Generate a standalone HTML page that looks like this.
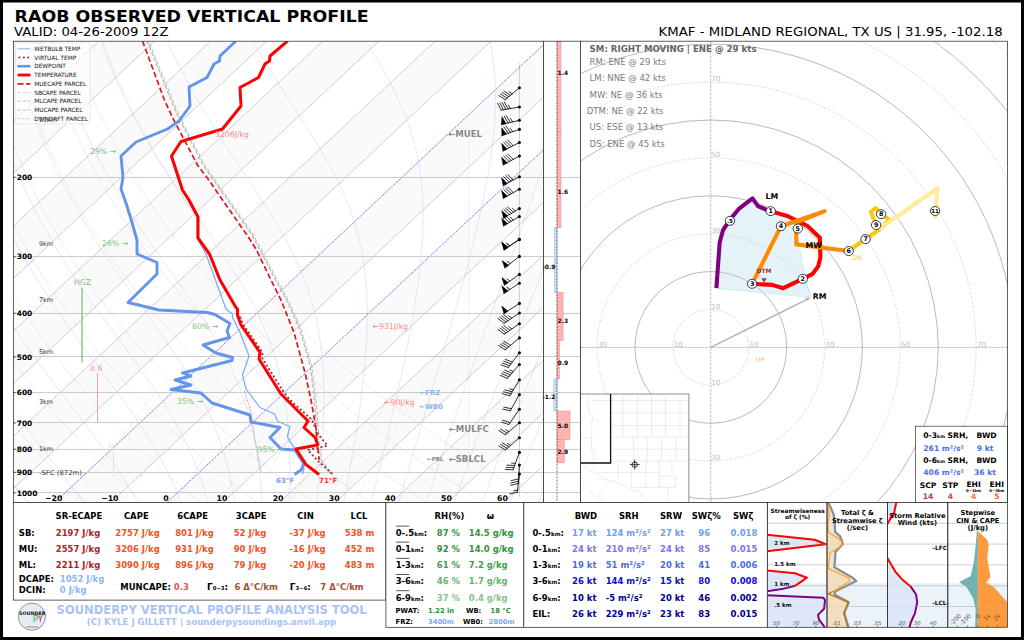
<!DOCTYPE html>
<html lang="en"><head><meta charset="utf-8"><title>RAOB OBSERVED VERTICAL PROFILE</title>
<style>
html,body{margin:0;padding:0;background:#000;}
body{width:1024px;height:640px;overflow:hidden;}
svg{display:block;font-family:"DejaVu Sans","Liberation Sans",sans-serif;}
</style></head><body>
<svg width="1024" height="640" viewBox="0 0 1024 640">
<rect x="0" y="0" width="1024" height="640" fill="#000"/>
<rect x="3" y="2.5" width="1018" height="634.5" fill="#fff"/>
<text x="14.6" y="21.7" font-size="16.7" font-weight="bold" fill="#000" textLength="354" lengthAdjust="spacingAndGlyphs">RAOB OBSERVED VERTICAL PROFILE</text>
<text x="14" y="36.2" font-size="12.9" fill="#000" textLength="154.5" lengthAdjust="spacingAndGlyphs">VALID: 04-26-2009 12Z</text>
<text x="658.6" y="36.3" font-size="12.9" fill="#000" textLength="344" lengthAdjust="spacingAndGlyphs">KMAF - MIDLAND REGIONAL, TX US | 31.95, -102.18</text>
<defs><clipPath id="cs"><rect x="13.5" y="41.2" width="530" height="461.2"/></clipPath></defs>
<g clip-path="url(#cs)">
<polygon points="-506.2,502.5 -450.1,502.5 42.3,41.2 -13.8,41.2" fill="#fafafa"/>
<polygon points="-394,502.5 -337.9,502.5 154.5,41.2 98.4,41.2" fill="#fafafa"/>
<polygon points="-281.8,502.5 -225.7,502.5 266.7,41.2 210.6,41.2" fill="#fafafa"/>
<polygon points="-169.6,502.5 -113.5,502.5 378.9,41.2 322.8,41.2" fill="#fafafa"/>
<polygon points="-57.4,502.5 -1.3,502.5 491.1,41.2 435,41.2" fill="#fafafa"/>
<polygon points="54.8,502.5 110.9,502.5 603.3,41.2 547.2,41.2" fill="#fafafa"/>
<polygon points="167,502.5 223.1,502.5 715.5,41.2 659.4,41.2" fill="#fafafa"/>
<polygon points="279.2,502.5 335.3,502.5 827.7,41.2 771.6,41.2" fill="#fafafa"/>
<polygon points="391.4,502.5 447.5,502.5 939.9,41.2 883.8,41.2" fill="#fafafa"/>
<path d="M-160.6 41.2 L-160.9 56.6 L-160.8 72 L-160.4 87.4 L-159.5 102.8 L-158.3 118.1 L-156.7 133.5 L-154.6 148.9 L-152.2 164.2 L-149.3 179.6 L-146 195 L-142.2 210.4 L-138 225.8 L-133.3 241.1 L-128.1 256.5 L-122.5 271.9 L-116.3 287.2 L-109.6 302.6 L-102.4 318 L-94.7 333.4 L-86.4 348.8 L-77.6 364.1 L-68.2 379.5 L-58.2 394.9 L-47.6 410.2 L-36.4 425.6 L-24.6 441 L-12.1 456.4 L1 471.8 L14.8 487.1 L29.2 502.5" stroke="#eeb0b0" stroke-width="0.5" fill="none" opacity="0.55"/>
<path d="M-131.6 41.2 L-131.2 56.6 L-130.4 72 L-129.3 87.4 L-127.8 102.8 L-125.8 118.1 L-123.4 133.5 L-120.6 148.9 L-117.4 164.2 L-113.7 179.6 L-109.6 195 L-105 210.4 L-100 225.8 L-94.4 241.1 L-88.4 256.5 L-81.8 271.9 L-74.7 287.2 L-67.1 302.6 L-59 318 L-50.2 333.4 L-41 348.8 L-31.1 364.1 L-20.6 379.5 L-9.6 394.9 L2.1 410.2 L14.4 425.6 L27.4 441 L41 456.4 L55.4 471.8 L70.4 487.1 L86.1 502.5" stroke="#eeb0b0" stroke-width="0.5" fill="none" opacity="0.55"/>
<path d="M-102.5 41.2 L-101.5 56.6 L-100.1 72 L-98.2 87.4 L-96 102.8 L-93.3 118.1 L-90.2 133.5 L-86.7 148.9 L-82.7 164.2 L-78.2 179.6 L-73.3 195 L-67.9 210.4 L-62 225.8 L-55.5 241.1 L-48.6 256.5 L-41.1 271.9 L-33.1 287.2 L-24.6 302.6 L-15.5 318 L-5.8 333.4 L4.5 348.8 L15.4 364.1 L26.9 379.5 L39.1 394.9 L51.8 410.2 L65.3 425.6 L79.4 441 L94.2 456.4 L109.8 471.8 L126 487.1 L143 502.5" stroke="#eeb0b0" stroke-width="0.5" fill="none" opacity="0.55"/>
<path d="M-73.5 41.2 L-71.8 56.6 L-69.7 72 L-67.1 87.4 L-64.2 102.8 L-60.8 118.1 L-57 133.5 L-52.7 148.9 L-47.9 164.2 L-42.7 179.6 L-36.9 195 L-30.7 210.4 L-23.9 225.8 L-16.7 241.1 L-8.9 256.5 L-0.5 271.9 L8.4 287.2 L17.9 302.6 L28 318 L38.7 333.4 L50 348.8 L61.9 364.1 L74.5 379.5 L87.7 394.9 L101.6 410.2 L116.2 425.6 L131.4 441 L147.4 456.4 L164.2 471.8 L181.6 487.1 L199.9 502.5" stroke="#eeb0b0" stroke-width="0.5" fill="none" opacity="0.55"/>
<path d="M-44.4 41.2 L-42.1 56.6 L-39.3 72 L-36.1 87.4 L-32.4 102.8 L-28.3 118.1 L-23.7 133.5 L-18.7 148.9 L-13.1 164.2 L-7.1 179.6 L-0.6 195 L6.5 210.4 L14.1 225.8 L22.2 241.1 L30.9 256.5 L40.2 271.9 L50 287.2 L60.4 302.6 L71.5 318 L83.2 333.4 L95.5 348.8 L108.4 364.1 L122 379.5 L136.3 394.9 L151.3 410.2 L167 425.6 L183.4 441 L200.6 456.4 L218.6 471.8 L237.3 487.1 L256.8 502.5" stroke="#eeb0b0" stroke-width="0.5" fill="none" opacity="0.55"/>
<path d="M-15.3 41.2 L-12.3 56.6 L-8.9 72 L-5 87.4 L-0.6 102.8 L4.2 118.1 L9.5 133.5 L15.3 148.9 L21.6 164.2 L28.4 179.6 L35.8 195 L43.7 210.4 L52.1 225.8 L61.1 241.1 L70.7 256.5 L80.8 271.9 L91.6 287.2 L103 302.6 L115 318 L127.6 333.4 L140.9 348.8 L154.9 364.1 L169.6 379.5 L185 394.9 L201 410.2 L217.9 425.6 L235.5 441 L253.8 456.4 L272.9 471.8 L292.9 487.1 L313.7 502.5" stroke="#eeb0b0" stroke-width="0.5" fill="none" opacity="0.55"/>
<path d="M13.7 41.2 L17.4 56.6 L21.5 72 L26.1 87.4 L31.1 102.8 L36.7 118.1 L42.7 133.5 L49.3 148.9 L56.4 164.2 L64 179.6 L72.1 195 L80.8 210.4 L90.1 225.8 L100 241.1 L110.4 256.5 L121.5 271.9 L133.2 287.2 L145.5 302.6 L158.5 318 L172.1 333.4 L186.4 348.8 L201.4 364.1 L217.1 379.5 L233.6 394.9 L250.8 410.2 L268.7 425.6 L287.5 441 L307 456.4 L327.3 471.8 L348.5 487.1 L370.5 502.5" stroke="#eeb0b0" stroke-width="0.5" fill="none" opacity="0.55"/>
<path d="M42.8 41.2 L47.1 56.6 L51.9 72 L57.2 87.4 L62.9 102.8 L69.2 118.1 L76 133.5 L83.3 148.9 L91.1 164.2 L99.5 179.6 L108.5 195 L118 210.4 L128.1 225.8 L138.8 241.1 L150.2 256.5 L162.1 271.9 L174.7 287.2 L188 302.6 L201.9 318 L216.6 333.4 L231.9 348.8 L247.9 364.1 L264.7 379.5 L282.2 394.9 L300.5 410.2 L319.6 425.6 L339.5 441 L360.2 456.4 L381.7 471.8 L404.1 487.1 L427.4 502.5" stroke="#eeb0b0" stroke-width="0.5" fill="none" opacity="0.55"/>
<path d="M71.8 41.2 L76.8 56.6 L82.3 72 L88.2 87.4 L94.7 102.8 L101.7 118.1 L109.2 133.5 L117.3 148.9 L125.9 164.2 L135.1 179.6 L144.8 195 L155.2 210.4 L166.1 225.8 L177.7 241.1 L189.9 256.5 L202.8 271.9 L216.3 287.2 L230.5 302.6 L245.4 318 L261 333.4 L277.4 348.8 L294.4 364.1 L312.3 379.5 L330.9 394.9 L350.3 410.2 L370.5 425.6 L391.5 441 L413.4 456.4 L436.1 471.8 L459.8 487.1 L484.3 502.5" stroke="#eeb0b0" stroke-width="0.5" fill="none" opacity="0.55"/>
<path d="M100.9 41.2 L106.5 56.6 L112.7 72 L119.3 87.4 L126.5 102.8 L134.2 118.1 L142.5 133.5 L151.3 148.9 L160.6 164.2 L170.6 179.6 L181.2 195 L192.4 210.4 L204.2 225.8 L216.6 241.1 L229.7 256.5 L243.5 271.9 L257.9 287.2 L273 302.6 L288.9 318 L305.5 333.4 L322.8 348.8 L340.9 364.1 L359.8 379.5 L379.5 394.9 L400 410.2 L421.3 425.6 L443.5 441 L466.6 456.4 L490.5 471.8 L515.4 487.1 L541.2 502.5" stroke="#eeb0b0" stroke-width="0.5" fill="none" opacity="0.55"/>
<path d="M27.8 502.5 L24 497.7 L20.1 492.9 L12.3 483.1 L4.4 473.3 L-3.4 463.5 L-11 453.7 L-18.6 443.8 L-26 434 L-33.2 424.2 L-40.3 414.4 L-47.1 404.6 L-53.8 394.7 L-60.2 384.9 L-66.4 375.1 L-72.4 365.3 L-78.1 355.5 L-83.6 345.6 L-89 335.8 L-94 326 L-98.9 316.2 L-103.6 306.4 L-108 296.5 L-112.3 286.7 L-116.3 276.9 L-120.1 267.1 L-123.7 257.3 L-127.1 247.5 L-130.4 237.6 L-133.4 227.8 L-136.2 218 L-138.9 208.2 L-141.3 198.4 L-143.6 188.5 L-145.7 178.7 L-147.6 168.9 L-149.3 159.1 L-150.9 149.3 L-152.3 139.4 L-153.5 129.6 L-154.6 119.8 L-155.5 110 L-156.2 100.2 L-156.8 90.3 L-157.2 80.5 L-157.5 70.7 L-157.6 60.9 L-157.6 51.1 L-157.4 41.2" stroke="#b4c0f0" stroke-width="0.5" fill="none" opacity="0.7"/>
<path d="M83.2 502.5 L79.7 497.7 L76.2 492.9 L68.9 483.1 L61.4 473.3 L53.8 463.5 L46.2 453.7 L38.5 443.8 L30.8 434 L23.2 424.2 L15.7 414.4 L8.3 404.6 L1.1 394.7 L-6 384.9 L-12.8 375.1 L-19.5 365.3 L-25.9 355.5 L-32.1 345.6 L-38.1 335.8 L-43.9 326 L-49.5 316.2 L-54.8 306.4 L-60 296.5 L-64.9 286.7 L-69.6 276.9 L-74.1 267.1 L-78.3 257.3 L-82.4 247.5 L-86.2 237.6 L-89.9 227.8 L-93.3 218 L-96.6 208.2 L-99.6 198.4 L-102.5 188.5 L-105.2 178.7 L-107.7 168.9 L-110 159.1 L-112.1 149.3 L-114.1 139.4 L-115.8 129.6 L-117.4 119.8 L-118.9 110 L-120.1 100.2 L-121.2 90.3 L-122.1 80.5 L-122.9 70.7 L-123.5 60.9 L-123.9 51.1 L-124.2 41.2" stroke="#b4c0f0" stroke-width="0.5" fill="none" opacity="0.7"/>
<path d="M137.7 502.5 L135.1 497.7 L132.3 492.9 L126.4 483.1 L120.2 473.3 L113.6 463.5 L106.8 453.7 L99.7 443.8 L92.4 434 L85 424.2 L77.5 414.4 L70 404.6 L62.5 394.7 L55.1 384.9 L47.7 375.1 L40.5 365.3 L33.4 355.5 L26.5 345.6 L19.8 335.8 L13.3 326 L7 316.2 L0.9 306.4 L-5 296.5 L-10.7 286.7 L-16.1 276.9 L-21.3 267.1 L-26.4 257.3 L-31.1 247.5 L-35.7 237.6 L-40.1 227.8 L-44.2 218 L-48.2 208.2 L-51.9 198.4 L-55.5 188.5 L-58.8 178.7 L-62 168.9 L-64.9 159.1 L-67.7 149.3 L-70.3 139.4 L-72.7 129.6 L-74.9 119.8 L-76.9 110 L-78.8 100.2 L-80.4 90.3 L-81.9 80.5 L-83.3 70.7 L-84.4 60.9 L-85.4 51.1 L-86.3 41.2" stroke="#b4c0f0" stroke-width="0.5" fill="none" opacity="0.7"/>
<path d="M181 502.5 L179.1 497.7 L177.2 492.9 L173 483.1 L168.4 473.3 L163.4 463.5 L158 453.7 L152.3 443.8 L146.2 434 L139.8 424.2 L133.1 414.4 L126.2 404.6 L119 394.7 L111.8 384.9 L104.5 375.1 L97.1 365.3 L89.8 355.5 L82.5 345.6 L75.3 335.8 L68.2 326 L61.3 316.2 L54.6 306.4 L48.1 296.5 L41.7 286.7 L35.6 276.9 L29.7 267.1 L24 257.3 L18.5 247.5 L13.2 237.6 L8.2 227.8 L3.4 218 L-1.3 208.2 L-5.7 198.4 L-9.9 188.5 L-13.8 178.7 L-17.6 168.9 L-21.2 159.1 L-24.6 149.3 L-27.8 139.4 L-30.8 129.6 L-33.6 119.8 L-36.2 110 L-38.6 100.2 L-40.9 90.3 L-42.9 80.5 L-44.8 70.7 L-46.5 60.9 L-48.1 51.1 L-49.4 41.2" stroke="#b4c0f0" stroke-width="0.5" fill="none" opacity="0.7"/>
<path d="M207.9 502.5 L206.6 497.7 L205.3 492.9 L202.2 483.1 L198.8 473.3 L195.1 463.5 L190.9 453.7 L186.4 443.8 L181.5 434 L176.2 424.2 L170.5 414.4 L164.5 404.6 L158.2 394.7 L151.6 384.9 L144.7 375.1 L137.7 365.3 L130.5 355.5 L123.3 345.6 L116.1 335.8 L108.9 326 L101.7 316.2 L94.7 306.4 L87.7 296.5 L81 286.7 L74.4 276.9 L68 267.1 L61.8 257.3 L55.9 247.5 L50.1 237.6 L44.6 227.8 L39.2 218 L34.1 208.2 L29.2 198.4 L24.5 188.5 L20 178.7 L15.8 168.9 L11.7 159.1 L7.9 149.3 L4.2 139.4 L0.8 129.6 L-2.5 119.8 L-5.5 110 L-8.4 100.2 L-11.1 90.3 L-13.6 80.5 L-15.9 70.7 L-18 60.9 L-19.9 51.1 L-21.7 41.2" stroke="#b4c0f0" stroke-width="0.5" fill="none" opacity="0.7"/>
<path d="M234.9 502.5 L234.1 497.7 L233.3 492.9 L231.4 483.1 L229.3 473.3 L226.8 463.5 L224.1 453.7 L220.9 443.8 L217.5 434 L213.6 424.2 L209.4 414.4 L204.7 404.6 L199.7 394.7 L194.3 384.9 L188.5 375.1 L182.4 365.3 L176 355.5 L169.3 345.6 L162.4 335.8 L155.4 326 L148.4 316.2 L141.2 306.4 L134.1 296.5 L127.1 286.7 L120.1 276.9 L113.3 267.1 L106.7 257.3 L100.2 247.5 L93.9 237.6 L87.8 227.8 L81.9 218 L76.2 208.2 L70.7 198.4 L65.5 188.5 L60.4 178.7 L55.6 168.9 L51 159.1 L46.6 149.3 L42.4 139.4 L38.4 129.6 L34.6 119.8 L31 110 L27.6 100.2 L24.5 90.3 L21.5 80.5 L18.7 70.7 L16.1 60.9 L13.6 51.1 L11.4 41.2" stroke="#b4c0f0" stroke-width="0.5" fill="none" opacity="0.7"/>
<path d="M261.9 502.5 L261.7 497.7 L261.4 492.9 L260.6 483.1 L259.7 473.3 L258.5 463.5 L257.1 453.7 L255.4 443.8 L253.4 434 L251.1 424.2 L248.5 414.4 L245.5 404.6 L242.2 394.7 L238.4 384.9 L234.3 375.1 L229.8 365.3 L224.8 355.5 L219.5 345.6 L213.8 335.8 L207.8 326 L201.5 316.2 L195 306.4 L188.2 296.5 L181.3 286.7 L174.4 276.9 L167.4 267.1 L160.5 257.3 L153.6 247.5 L146.8 237.6 L140.2 227.8 L133.7 218 L127.4 208.2 L121.3 198.4 L115.4 188.5 L109.7 178.7 L104.2 168.9 L98.9 159.1 L93.8 149.3 L89 139.4 L84.4 129.6 L79.9 119.8 L75.7 110 L71.7 100.2 L67.9 90.3 L64.3 80.5 L60.9 70.7 L57.7 60.9 L54.6 51.1 L51.8 41.2" stroke="#b4c0f0" stroke-width="0.5" fill="none" opacity="0.7"/>
<path d="M289.1 502.5 L289.2 497.7 L289.4 492.9 L289.7 483.1 L289.8 473.3 L289.8 463.5 L289.6 453.7 L289.2 443.8 L288.6 434 L287.8 424.2 L286.8 414.4 L285.5 404.6 L284 394.7 L282.1 384.9 L279.9 375.1 L277.4 365.3 L274.5 355.5 L271.2 345.6 L267.5 335.8 L263.4 326 L258.9 316.2 L254 306.4 L248.7 296.5 L243.1 286.7 L237.1 276.9 L230.8 267.1 L224.3 257.3 L217.7 247.5 L211 237.6 L204.2 227.8 L197.4 218 L190.6 208.2 L184 198.4 L177.4 188.5 L171 178.7 L164.8 168.9 L158.8 159.1 L152.9 149.3 L147.3 139.4 L141.9 129.6 L136.7 119.8 L131.7 110 L126.9 100.2 L122.3 90.3 L117.9 80.5 L113.7 70.7 L109.8 60.9 L106 51.1 L102.5 41.2" stroke="#b4c0f0" stroke-width="0.5" fill="none" opacity="0.7"/>
<path d="M316.3 502.5 L316.9 497.7 L317.5 492.9 L318.6 483.1 L319.6 473.3 L320.6 463.5 L321.4 453.7 L322.2 443.8 L322.8 434 L323.3 424.2 L323.7 414.4 L323.9 404.6 L323.9 394.7 L323.7 384.9 L323.4 375.1 L322.8 365.3 L321.9 355.5 L320.8 345.6 L319.4 335.8 L317.7 326 L315.6 316.2 L313.2 306.4 L310.3 296.5 L307.1 286.7 L303.5 276.9 L299.4 267.1 L295 257.3 L290.1 247.5 L284.8 237.6 L279.2 227.8 L273.3 218 L267.1 208.2 L260.7 198.4 L254.2 188.5 L247.6 178.7 L241 168.9 L234.5 159.1 L228 149.3 L221.6 139.4 L215.3 129.6 L209.2 119.8 L203.3 110 L197.6 100.2 L192.1 90.3 L186.8 80.5 L181.6 70.7 L176.7 60.9 L172.1 51.1 L167.6 41.2" stroke="#b4c0f0" stroke-width="0.5" fill="none" opacity="0.7"/>
<path d="M343.7 502.5 L344.6 497.7 L345.5 492.9 L347.3 483.1 L349.1 473.3 L350.9 463.5 L352.6 453.7 L354.3 443.8 L355.9 434 L357.4 424.2 L358.9 414.4 L360.3 404.6 L361.5 394.7 L362.7 384.9 L363.8 375.1 L364.8 365.3 L365.6 355.5 L366.3 345.6 L366.8 335.8 L367.1 326 L367.3 316.2 L367.2 306.4 L366.9 296.5 L366.3 286.7 L365.5 276.9 L364.3 267.1 L362.9 257.3 L361 247.5 L358.8 237.6 L356.2 227.8 L353.2 218 L349.7 208.2 L345.8 198.4 L341.5 188.5 L336.8 178.7 L331.7 168.9 L326.2 159.1 L320.4 149.3 L314.4 139.4 L308.2 129.6 L301.9 119.8 L295.6 110 L289.2 100.2 L282.9 90.3 L276.7 80.5 L270.6 70.7 L264.6 60.9 L258.8 51.1 L253.2 41.2" stroke="#b4c0f0" stroke-width="0.5" fill="none" opacity="0.7"/>
<path d="M371.2 502.5 L372.4 497.7 L373.6 492.9 L376 483.1 L378.4 473.3 L380.8 463.5 L383.1 453.7 L385.5 443.8 L387.9 434 L390.2 424.2 L392.5 414.4 L394.8 404.6 L397 394.7 L399.2 384.9 L401.4 375.1 L403.5 365.3 L405.5 355.5 L407.5 345.6 L409.4 335.8 L411.2 326 L413 316.2 L414.6 306.4 L416.2 296.5 L417.6 286.7 L418.9 276.9 L420 267.1 L421 257.3 L421.8 247.5 L422.5 237.6 L422.9 227.8 L423.1 218 L423 208.2 L422.7 198.4 L422 188.5 L421 178.7 L419.7 168.9 L418 159.1 L415.9 149.3 L413.4 139.4 L410.4 129.6 L407 119.8 L403.1 110 L398.8 100.2 L394.1 90.3 L389.1 80.5 L383.7 70.7 L378 60.9 L372.1 51.1 L366.1 41.2" stroke="#b4c0f0" stroke-width="0.5" fill="none" opacity="0.7"/>
<path d="M398.9 502.5 L400.2 497.7 L401.6 492.9 L404.5 483.1 L407.3 473.3 L410.2 463.5 L413.1 453.7 L416 443.8 L418.9 434 L421.8 424.2 L424.8 414.4 L427.7 404.6 L430.6 394.7 L433.5 384.9 L436.4 375.1 L439.3 365.3 L442.2 355.5 L445.1 345.6 L447.9 335.8 L450.8 326 L453.6 316.2 L456.4 306.4 L459.1 296.5 L461.8 286.7 L464.5 276.9 L467.1 267.1 L469.6 257.3 L472.1 247.5 L474.6 237.6 L476.9 227.8 L479.2 218 L481.4 208.2 L483.5 198.4 L485.4 188.5 L487.2 178.7 L488.9 168.9 L490.5 159.1 L491.9 149.3 L493.1 139.4 L494.1 129.6 L494.8 119.8 L495.3 110 L495.6 100.2 L495.6 90.3 L495.2 80.5 L494.5 70.7 L493.4 60.9 L491.9 51.1 L490 41.2" stroke="#b4c0f0" stroke-width="0.5" fill="none" opacity="0.7"/>
<path d="M426.6 502.5 L428.1 497.7 L429.7 492.9 L432.9 483.1 L436.1 473.3 L439.3 463.5 L442.6 453.7 L445.9 443.8 L449.2 434 L452.5 424.2 L455.9 414.4 L459.3 404.6 L462.7 394.7 L466.1 384.9 L469.5 375.1 L473 365.3 L476.4 355.5 L479.9 345.6 L483.4 335.8 L486.9 326 L490.4 316.2 L493.9 306.4 L497.4 296.5 L500.9 286.7 L504.4 276.9 L507.9 267.1 L511.4 257.3 L514.8 247.5 L518.3 237.6 L521.8 227.8 L525.2 218 L528.6 208.2 L532 198.4 L535.4 188.5 L538.8 178.7 L542.1 168.9 L545.4 159.1 L548.6 149.3 L551.8 139.4 L554.9 129.6 L558 119.8 L561 110 L563.9 100.2 L566.7 90.3 L569.5 80.5 L572.1 70.7 L574.7 60.9 L577.1 51.1 L579.3 41.2" stroke="#b4c0f0" stroke-width="0.5" fill="none" opacity="0.7"/>
<path d="M454.4 502.5 L456.1 497.7 L457.7 492.9 L461.1 483.1 L464.6 473.3 L468.1 463.5 L471.7 453.7 L475.2 443.8 L478.8 434 L482.5 424.2 L486.1 414.4 L489.8 404.6 L493.6 394.7 L497.3 384.9 L501.1 375.1 L504.9 365.3 L508.7 355.5 L512.6 345.6 L516.5 335.8 L520.4 326 L524.3 316.2 L528.3 306.4 L532.3 296.5 L536.3 286.7 L540.3 276.9 L544.3 267.1 L548.4 257.3 L552.4 247.5 L556.5 237.6 L560.6 227.8 L564.7 218 L568.8 208.2 L572.9 198.4 L577.1 188.5 L581.2 178.7 L585.4 168.9 L589.5 159.1 L593.7 149.3 L597.8 139.4 L602 129.6 L606.2 119.8 L610.3 110 L614.4 100.2 L618.6 90.3 L622.7 80.5 L626.8 70.7 L630.9 60.9 L635 51.1 L639 41.2" stroke="#b4c0f0" stroke-width="0.5" fill="none" opacity="0.7"/>
<path d="M482.3 502.5 L484 497.7 L485.8 492.9 L489.4 483.1 L493 473.3 L496.7 463.5 L500.4 453.7 L504.2 443.8 L508 434 L511.8 424.2 L515.7 414.4 L519.6 404.6 L523.5 394.7 L527.5 384.9 L531.5 375.1 L535.5 365.3 L539.6 355.5 L543.7 345.6 L547.9 335.8 L552.1 326 L556.3 316.2 L560.5 306.4 L564.8 296.5 L569.1 286.7 L573.4 276.9 L577.7 267.1 L582.1 257.3 L586.5 247.5 L591 237.6 L595.4 227.8 L599.9 218 L604.4 208.2 L609 198.4 L613.5 188.5 L618.1 178.7 L622.7 168.9 L627.3 159.1 L631.9 149.3 L636.6 139.4 L641.3 129.6 L646 119.8 L650.7 110 L655.4 100.2 L660.2 90.3 L664.9 80.5 L669.7 70.7 L674.5 60.9 L679.3 51.1 L684.1 41.2" stroke="#b4c0f0" stroke-width="0.5" fill="none" opacity="0.7"/>
<path d="M510.2 502.5 L512 497.7 L513.8 492.9 L517.5 483.1 L521.3 473.3 L525.1 463.5 L528.9 453.7 L532.8 443.8 L536.7 434 L540.6 424.2 L544.6 414.4 L548.7 404.6 L552.7 394.7 L556.9 384.9 L561 375.1 L565.2 365.3 L569.4 355.5 L573.7 345.6 L578 335.8 L582.3 326 L586.7 316.2 L591.1 306.4 L595.5 296.5 L600 286.7 L604.5 276.9 L609.1 267.1 L613.6 257.3 L618.2 247.5 L622.9 237.6 L627.5 227.8 L632.2 218 L637 208.2 L641.7 198.4 L646.5 188.5 L651.3 178.7 L656.2 168.9 L661 159.1 L665.9 149.3 L670.9 139.4 L675.8 129.6 L680.8 119.8 L685.8 110 L690.8 100.2 L695.9 90.3 L701 80.5 L706.1 70.7 L711.2 60.9 L716.4 51.1 L721.5 41.2" stroke="#b4c0f0" stroke-width="0.5" fill="none" opacity="0.7"/>
<path d="M538.2 502.5 L540.1 497.7 L541.9 492.9 L545.6 483.1 L549.4 473.3 L553.3 463.5 L557.2 453.7 L561.1 443.8 L565.1 434 L569.1 424.2 L573.2 414.4 L577.3 404.6 L581.4 394.7 L585.6 384.9 L589.8 375.1 L594.1 365.3 L598.4 355.5 L602.7 345.6 L607.1 335.8 L611.5 326 L616 316.2 L620.5 306.4 L625 296.5 L629.6 286.7 L634.2 276.9 L638.8 267.1 L643.5 257.3 L648.2 247.5 L652.9 237.6 L657.7 227.8 L662.5 218 L667.4 208.2 L672.2 198.4 L677.1 188.5 L682.1 178.7 L687 168.9 L692 159.1 L697.1 149.3 L702.1 139.4 L707.2 129.6 L712.3 119.8 L717.5 110 L722.7 100.2 L727.9 90.3 L733.1 80.5 L738.4 70.7 L743.7 60.9 L749 51.1 L754.3 41.2" stroke="#b4c0f0" stroke-width="0.5" fill="none" opacity="0.7"/>
<path d="M74.2 502.5 L81.1 492.9 L96.2 472.3 L113.1 449.2 L132.4 423 L154.9 392.7" stroke="#9fd09f" stroke-width="0.5" stroke-dasharray="1 1" fill="none" opacity="0.7"/>
<path d="M122.4 502.5 L129.1 492.9 L143.6 472.3 L159.9 449.2 L178.6 423 L200.3 392.7" stroke="#9fd09f" stroke-width="0.5" stroke-dasharray="1 1" fill="none" opacity="0.7"/>
<path d="M174.2 502.5 L180.7 492.9 L194.6 472.3 L210.3 449.2 L228.2 423 L249.1 392.7" stroke="#9fd09f" stroke-width="0.5" stroke-dasharray="1 1" fill="none" opacity="0.7"/>
<path d="M219 502.5 L225.2 492.9 L238.6 472.3 L253.7 449.2 L270.9 423 L291.1 392.7" stroke="#9fd09f" stroke-width="0.5" stroke-dasharray="1 1" fill="none" opacity="0.7"/>
<path d="M248.9 502.5 L254.9 492.9 L268 472.3 L282.6 449.2 L299.5 423 L319.1 392.7" stroke="#9fd09f" stroke-width="0.5" stroke-dasharray="1 1" fill="none" opacity="0.7"/>
<path d="M290.1 502.5 L295.8 492.9 L308.3 472.3 L322.5 449.2 L338.7 423 L357.6 392.7" stroke="#9fd09f" stroke-width="0.5" stroke-dasharray="1 1" fill="none" opacity="0.7"/>
<path d="M327.1 502.5 L332.6 492.9 L344.6 472.3 L358.2 449.2 L373.8 423 L392.1 392.7" stroke="#9fd09f" stroke-width="0.5" stroke-dasharray="1 1" fill="none" opacity="0.7"/>
<path d="M354.1 502.5 L359.5 492.9 L371.2 472.3 L384.4 449.2 L399.5 423 L417.3 392.7" stroke="#9fd09f" stroke-width="0.5" stroke-dasharray="1 1" fill="none" opacity="0.7"/>
<line x1="-562.3" y1="502.5" x2="-69.9" y2="41.2" stroke="#a8a8a8" stroke-width="0.55"/>
<line x1="-506.2" y1="502.5" x2="-13.8" y2="41.2" stroke="#a8a8a8" stroke-width="0.55"/>
<line x1="-450.1" y1="502.5" x2="42.3" y2="41.2" stroke="#a8a8a8" stroke-width="0.55"/>
<line x1="-394" y1="502.5" x2="98.4" y2="41.2" stroke="#a8a8a8" stroke-width="0.55"/>
<line x1="-337.9" y1="502.5" x2="154.5" y2="41.2" stroke="#a8a8a8" stroke-width="0.55"/>
<line x1="-281.8" y1="502.5" x2="210.6" y2="41.2" stroke="#a8a8a8" stroke-width="0.55"/>
<line x1="-225.7" y1="502.5" x2="266.7" y2="41.2" stroke="#a8a8a8" stroke-width="0.55"/>
<line x1="-169.6" y1="502.5" x2="322.8" y2="41.2" stroke="#a8a8a8" stroke-width="0.55"/>
<line x1="-113.5" y1="502.5" x2="378.9" y2="41.2" stroke="#a8a8a8" stroke-width="0.55"/>
<line x1="-57.4" y1="502.5" x2="435" y2="41.2" stroke="#a8a8a8" stroke-width="0.55"/>
<line x1="-1.3" y1="502.5" x2="491.1" y2="41.2" stroke="#a8a8a8" stroke-width="0.55"/>
<line x1="54.8" y1="502.5" x2="547.2" y2="41.2" stroke="#8080e6" stroke-width="0.9" stroke-dasharray="3 0.8"/>
<line x1="110.9" y1="502.5" x2="603.3" y2="41.2" stroke="#a8a8a8" stroke-width="0.55"/>
<line x1="167" y1="502.5" x2="659.4" y2="41.2" stroke="#8080e6" stroke-width="0.9" stroke-dasharray="3 0.8"/>
<line x1="223.1" y1="502.5" x2="715.5" y2="41.2" stroke="#a8a8a8" stroke-width="0.55"/>
<line x1="279.2" y1="502.5" x2="771.6" y2="41.2" stroke="#a8a8a8" stroke-width="0.55"/>
<line x1="335.3" y1="502.5" x2="827.7" y2="41.2" stroke="#a8a8a8" stroke-width="0.55"/>
<line x1="391.4" y1="502.5" x2="883.8" y2="41.2" stroke="#a8a8a8" stroke-width="0.55"/>
<line x1="447.5" y1="502.5" x2="939.9" y2="41.2" stroke="#a8a8a8" stroke-width="0.55"/>
<line x1="503.6" y1="502.5" x2="996" y2="41.2" stroke="#a8a8a8" stroke-width="0.55"/>
<line x1="13.5" y1="177.5" x2="543.5" y2="177.5" stroke="#cbcbcb" stroke-width="1"/>
<line x1="13.5" y1="256.5" x2="543.5" y2="256.5" stroke="#cbcbcb" stroke-width="1"/>
<line x1="13.5" y1="313.5" x2="543.5" y2="313.5" stroke="#cbcbcb" stroke-width="1"/>
<line x1="13.5" y1="356.5" x2="543.5" y2="356.5" stroke="#cbcbcb" stroke-width="1"/>
<line x1="13.5" y1="392.5" x2="543.5" y2="392.5" stroke="#cbcbcb" stroke-width="1"/>
<line x1="13.5" y1="422.5" x2="543.5" y2="422.5" stroke="#cbcbcb" stroke-width="1"/>
<line x1="13.5" y1="449.5" x2="543.5" y2="449.5" stroke="#cbcbcb" stroke-width="1"/>
<line x1="13.5" y1="472.5" x2="543.5" y2="472.5" stroke="#cbcbcb" stroke-width="1"/>
<line x1="13.5" y1="492.5" x2="543.5" y2="492.5" stroke="#cbcbcb" stroke-width="1"/>
<line x1="468.8" y1="139" x2="468.8" y2="474" stroke="#c4c4c4" stroke-width="0.6" stroke-dasharray="1 1.5"/><line x1="437.4" y1="462" x2="437.4" y2="474" stroke="#c4c4c4" stroke-width="0.6" stroke-dasharray="1 1.5"/>
<line x1="82" y1="288" x2="82" y2="362.5" stroke="#7fbf7f" stroke-width="1.3"/>
<line x1="97.5" y1="373" x2="97.5" y2="422.5" stroke="#e89a9a" stroke-width="0.9"/>
<path d="M113.5 448.8 V475" stroke="#cfe8f2" stroke-width="1" fill="none"/>
<text x="108" y="447.6" font-size="5.19" fill="#cde6f1">EIL</text>
<path d="M244.5 391 L250 408.4 L254.2 435 L258 455 L261.3 473" stroke="#a04fa0" stroke-width="0.8" stroke-dasharray="1 1.4" fill="none"/>
<path d="M147 41 L171 100 L178.5 117.5 L203 165 L213.5 180 L227.5 200 L252 235 L275.5 280 L286.5 300 L299 327.5 L310 365 L314 395 L316 420 L318 445 L320 460 L331 474.5" stroke="#b0b0b0" stroke-width="1.1" stroke-dasharray="4 2" fill="none"/>
<path d="M148.6 41 L172.6 100 L180.1 117.5 L204.6 165 L215.1 180 L229.1 200 L253.6 235 L277.1 280 L288.1 300 L300.6 327.5 L311.6 365 L315.6 395 L317.6 420 L319.6 445 L321.6 460 L332.6 474.5" stroke="#c2c2c2" stroke-width="1.1" stroke-dasharray="4 2" stroke-dashoffset="3" fill="none"/>
<path d="M142.5 41 L164.4 100 L172.5 117.5 L197.5 165 L208.8 180 L222.5 200 L247 235 L256 249 L271 280 L281 300 L294 332.5 L305 372.5 L311 400 L315.5 425 L317.5 445 L319 460" stroke="#e8141c" stroke-width="1.7" stroke-dasharray="5.5 2.8" fill="none"/>
<path d="M302.5 474.5 L304 468 L300 455 L293 446.4 L287.3 436.6 L290 426.7 L277.4 421 L274.6 414 L260 407.5 L246 389 L242.5 375 L249 356 L240 332.5 L232.5 317.5 L232.5 314 L226 309 L206 254 L197 238 L197 217 L188 200 L181.5 190 L170.5 156" stroke="#76aaf8" stroke-width="1.2" fill="none" stroke-linejoin="round"/>
<path d="M331.6 473 L319 462 L307.7 450 L327.4 445.7 L317.5 433 L311.9 419.7 L290 400 L284 392.5 L262 358 L262.5 352.5 L243.5 325 L239.5 315" stroke="#a33434" stroke-width="2.1" stroke-dasharray="0.1 4.2" stroke-linecap="round" fill="none"/>
<path d="M294.5 474.5 L301 470 L304 464 L295 450 L281 449 L270 437.5 L280 427.5 L251 422 L250 415 L212 403 L201 393 L171 389.5 L191 385 L175 380 L191 376 L182.5 373 L232 360.5 L232.5 357.5 L216 353 L203 345 L229.5 337.5 L227 331 L230 323.5 L215 314.5 L207.5 312.5 L159 310 L128 302.5 L157 274 L157 262.5 L137 254 L137 240 L131 219 L125 200 L121 189 L123 177.5 L121 156 L136 142 L167.5 129 L179 121 L190 106 L189 87 L207 77.5 L214 64 L219.5 61 L220 56 L236 41" stroke="#6495ed" stroke-width="2.9" fill="none" stroke-linejoin="round"/>
<path d="M319 474.5 L306 464.5 L296 449 L317.6 445 L315.5 438 L304 427.5 L308 421 L281 394 L259 359 L260 352.5 L241 325 L237.5 315 L237.5 309 L236 307.5 L220 280 L209.5 254 L198 238 L198 217 L189 200 L182.5 190 L171.5 156 L181 141.5 L222.5 129 L241 106 L240 87.5 L258.5 77.5 L265 64 L269.5 61 L270 56 L287.5 41" stroke="#ff0000" stroke-width="3" fill="none" stroke-linejoin="round"/>
</g>
<line x1="519.4" y1="63.5" x2="519.4" y2="497.5" stroke="#777" stroke-width="0.7" stroke-dasharray="1 1"/>
<g stroke="#000" stroke-width="0.8" stroke-linecap="round">
<line x1="519.4" y1="87.8" x2="505.2" y2="99.7"/><line x1="505.2" y1="99.7" x2="498.7" y2="95.5"/><line x1="507" y1="98.2" x2="500.5" y2="94"/><line x1="508.8" y1="96.7" x2="502.2" y2="92.5"/><line x1="510.5" y1="95.3" x2="504" y2="91.1"/><line x1="512.3" y1="93.8" x2="509" y2="91.7"/><circle cx="519.4" cy="87.8" r="1.55" fill="#000" stroke="none"/>
<line x1="519.4" y1="107" x2="501.2" y2="110.2"/><line x1="501.2" y1="110.2" x2="497.6" y2="103.3"/><line x1="503.4" y1="109.8" x2="499.9" y2="102.9"/><line x1="505.7" y1="109.4" x2="502.2" y2="102.5"/><line x1="508" y1="109" x2="504.4" y2="102.1"/><line x1="510.2" y1="108.6" x2="508.5" y2="105.2"/><circle cx="519.4" cy="107" r="1.55" fill="#000" stroke="none"/>
<line x1="519.4" y1="120.3" x2="501.4" y2="124.5"/><polygon points="501.4,124.5 502,116.7 505.9,123.4" fill="#000" stroke="#000" stroke-width="0.5"/><line x1="508.1" y1="122.9" x2="504.2" y2="116.2"/><line x1="510.3" y1="122.4" x2="506.4" y2="115.7"/><line x1="512.6" y1="121.9" x2="510.6" y2="118.5"/><circle cx="519.4" cy="120.3" r="1.55" fill="#000" stroke="none"/>
<line x1="519.4" y1="129.4" x2="501.9" y2="135.4"/><polygon points="501.9,135.4 501.7,127.7 506.3,133.9" fill="#000" stroke="#000" stroke-width="0.5"/><line x1="508.4" y1="133.2" x2="503.8" y2="126.9"/><line x1="510.6" y1="132.4" x2="506" y2="126.2"/><line x1="512.8" y1="131.7" x2="510.5" y2="128.6"/><circle cx="519.4" cy="129.4" r="1.55" fill="#000" stroke="none"/>
<line x1="519.4" y1="142.5" x2="502.9" y2="150.9"/><polygon points="502.9,150.9 501.6,143.3 507,148.8" fill="#000" stroke="#000" stroke-width="0.5"/><line x1="509.1" y1="147.8" x2="503.7" y2="142.2"/><line x1="511.1" y1="146.7" x2="505.7" y2="141.2"/><line x1="513.2" y1="145.7" x2="507.8" y2="140.1"/><circle cx="519.4" cy="142.5" r="1.55" fill="#000" stroke="none"/>
<line x1="519.4" y1="156.1" x2="503.1" y2="164.8"/><polygon points="503.1,164.8 501.6,157.2 507.1,162.6" fill="#000" stroke="#000" stroke-width="0.5"/><line x1="509.2" y1="161.5" x2="503.7" y2="156.1"/><line x1="511.2" y1="160.5" x2="505.7" y2="155"/><line x1="513.2" y1="159.4" x2="507.7" y2="153.9"/><circle cx="519.4" cy="156.1" r="1.55" fill="#000" stroke="none"/>
<line x1="519.4" y1="176.7" x2="503.1" y2="185.4"/><polygon points="503.1,185.4 501.6,177.8 507.1,183.2" fill="#000" stroke="#000" stroke-width="0.5"/><line x1="509.2" y1="182.1" x2="503.7" y2="176.7"/><line x1="511.2" y1="181.1" x2="505.7" y2="175.6"/><line x1="513.2" y1="180" x2="507.7" y2="174.5"/><circle cx="519.4" cy="176.7" r="1.55" fill="#000" stroke="none"/>
<line x1="519.4" y1="189.2" x2="503.2" y2="198.2"/><polygon points="503.2,198.2 501.6,190.6 507.2,195.9" fill="#000" stroke="#000" stroke-width="0.5"/><line x1="509.3" y1="194.8" x2="503.7" y2="189.5"/><line x1="511.3" y1="193.7" x2="505.7" y2="188.4"/><line x1="513.3" y1="192.6" x2="507.7" y2="187.2"/><circle cx="519.4" cy="189.2" r="1.55" fill="#000" stroke="none"/>
<line x1="519.4" y1="208.6" x2="503.5" y2="218.1"/><polygon points="503.5,218.1 501.7,210.6 507.5,215.8" fill="#000" stroke="#000" stroke-width="0.5"/><line x1="509.5" y1="214.6" x2="503.7" y2="209.4"/><line x1="511.4" y1="213.4" x2="505.6" y2="208.2"/><line x1="513.4" y1="212.2" x2="507.6" y2="207"/><line x1="515.4" y1="211" x2="512.5" y2="208.4"/><circle cx="519.4" cy="208.6" r="1.55" fill="#000" stroke="none"/>
<line x1="519.4" y1="216.5" x2="503.4" y2="225.8"/><polygon points="503.4,225.8 501.7,218.2 507.4,223.4" fill="#000" stroke="#000" stroke-width="0.5"/><line x1="509.4" y1="222.3" x2="503.7" y2="217"/><line x1="511.3" y1="221.2" x2="505.7" y2="215.9"/><line x1="513.3" y1="220" x2="510.5" y2="217.4"/><circle cx="519.4" cy="216.5" r="1.55" fill="#000" stroke="none"/>
<line x1="519.4" y1="239.2" x2="504.2" y2="249.7"/><polygon points="504.2,249.7 501.9,242.3 508,247.1" fill="#000" stroke="#000" stroke-width="0.5"/><line x1="509.9" y1="245.8" x2="506.8" y2="243.4"/><circle cx="519.4" cy="239.2" r="1.55" fill="#000" stroke="none"/>
<line x1="519.4" y1="239.6" x2="503.9" y2="249.7"/><polygon points="503.9,249.7 501.8,242.2 507.7,247.2" fill="#000" stroke="#000" stroke-width="0.5"/><line x1="509.7" y1="245.9" x2="506.7" y2="243.4"/><circle cx="519.4" cy="239.6" r="1.55" fill="#000" stroke="none"/>
<line x1="519.4" y1="256.4" x2="504.8" y2="267.8"/><polygon points="504.8,267.8 502.1,260.5 508.4,265" fill="#000" stroke="#000" stroke-width="0.5"/><line x1="510.3" y1="263.5" x2="507.1" y2="261.3"/><circle cx="519.4" cy="256.4" r="1.55" fill="#000" stroke="none"/>
<line x1="519.4" y1="274.4" x2="504.2" y2="285"/><polygon points="504.2,285 501.9,277.6 508,282.4" fill="#000" stroke="#000" stroke-width="0.5"/><line x1="509.9" y1="281.1" x2="506.8" y2="278.7"/><circle cx="519.4" cy="274.4" r="1.55" fill="#000" stroke="none"/>
<line x1="519.4" y1="283.2" x2="503.9" y2="293.3"/><polygon points="503.9,293.3 501.8,285.8 507.7,290.8" fill="#000" stroke="#000" stroke-width="0.5"/><line x1="509.7" y1="289.5" x2="506.7" y2="287"/><circle cx="519.4" cy="283.2" r="1.55" fill="#000" stroke="none"/>
<line x1="519.4" y1="303.4" x2="503.9" y2="313.5"/><polygon points="503.9,313.5 501.8,306 507.7,311" fill="#000" stroke="#000" stroke-width="0.5"/><circle cx="519.4" cy="303.4" r="1.55" fill="#000" stroke="none"/>
<line x1="519.4" y1="313" x2="504.1" y2="323.3"/><line x1="504.1" y1="323.3" x2="498" y2="318.5"/><line x1="506" y1="322.1" x2="499.9" y2="317.2"/><line x1="507.9" y1="320.8" x2="501.8" y2="315.9"/><line x1="509.8" y1="319.5" x2="503.7" y2="314.6"/><line x1="511.7" y1="318.2" x2="508.7" y2="315.8"/><circle cx="519.4" cy="313" r="1.55" fill="#000" stroke="none"/>
<line x1="519.4" y1="323.7" x2="504.2" y2="334.2"/><line x1="504.2" y1="334.2" x2="498.1" y2="329.4"/><line x1="506" y1="332.9" x2="500" y2="328.1"/><line x1="507.9" y1="331.6" x2="501.9" y2="326.8"/><line x1="509.8" y1="330.3" x2="503.8" y2="325.5"/><line x1="511.7" y1="329" x2="508.7" y2="326.6"/><circle cx="519.4" cy="323.7" r="1.55" fill="#000" stroke="none"/>
<line x1="519.4" y1="337.9" x2="505.2" y2="349.8"/><line x1="505.2" y1="349.8" x2="498.7" y2="345.6"/><line x1="507" y1="348.3" x2="500.5" y2="344.1"/><line x1="508.8" y1="346.8" x2="502.2" y2="342.6"/><line x1="510.5" y1="345.4" x2="504" y2="341.2"/><circle cx="519.4" cy="337.9" r="1.55" fill="#000" stroke="none"/>
<line x1="519.4" y1="352.8" x2="508.2" y2="367.5"/><line x1="508.2" y1="367.5" x2="500.9" y2="364.8"/><line x1="509.6" y1="365.7" x2="502.3" y2="363"/><line x1="511" y1="363.8" x2="503.7" y2="361.2"/><line x1="512.4" y1="362" x2="505.1" y2="359.3"/><circle cx="519.4" cy="352.8" r="1.55" fill="#000" stroke="none"/>
<line x1="519.4" y1="364.5" x2="507.3" y2="378.5"/><line x1="507.3" y1="378.5" x2="500.2" y2="375.3"/><line x1="508.8" y1="376.7" x2="501.7" y2="373.6"/><line x1="510.3" y1="375" x2="503.2" y2="371.9"/><line x1="511.8" y1="373.3" x2="504.7" y2="370.1"/><line x1="513.3" y1="371.5" x2="509.8" y2="370"/><circle cx="519.4" cy="364.5" r="1.55" fill="#000" stroke="none"/>
<line x1="519.4" y1="379.8" x2="509.9" y2="395.7"/><line x1="509.9" y1="395.7" x2="502.3" y2="393.8"/><line x1="511.1" y1="393.7" x2="503.5" y2="391.8"/><line x1="512.2" y1="391.7" x2="504.7" y2="389.9"/><line x1="513.4" y1="389.7" x2="509.7" y2="388.8"/><circle cx="519.4" cy="379.8" r="1.55" fill="#000" stroke="none"/>
<line x1="519.4" y1="394.6" x2="510.3" y2="410.7"/><line x1="510.3" y1="410.7" x2="502.7" y2="409.1"/><line x1="511.4" y1="408.7" x2="503.8" y2="407.1"/><circle cx="519.4" cy="394.6" r="1.55" fill="#000" stroke="none"/>
<line x1="519.4" y1="409.3" x2="508.8" y2="424.5"/><line x1="508.8" y1="424.5" x2="501.4" y2="422.1"/><line x1="510.1" y1="422.6" x2="502.7" y2="420.2"/><circle cx="519.4" cy="409.3" r="1.55" fill="#000" stroke="none"/>
<line x1="519.4" y1="422.7" x2="505.3" y2="434.7"/><line x1="505.3" y1="434.7" x2="498.8" y2="430.6"/><line x1="507.1" y1="433.2" x2="500.5" y2="429.1"/><line x1="508.8" y1="431.7" x2="505.6" y2="429.7"/><circle cx="519.4" cy="422.7" r="1.55" fill="#000" stroke="none"/>
<line x1="519.4" y1="437.8" x2="505.4" y2="449.9"/><line x1="505.4" y1="449.9" x2="498.8" y2="445.9"/><line x1="507.2" y1="448.4" x2="500.6" y2="444.4"/><line x1="508.9" y1="446.9" x2="502.3" y2="442.8"/><line x1="510.6" y1="445.4" x2="507.4" y2="443.4"/><circle cx="519.4" cy="437.8" r="1.55" fill="#000" stroke="none"/>
<line x1="519.4" y1="452.4" x2="513.1" y2="469.8"/><line x1="513.1" y1="469.8" x2="505.3" y2="469.4"/><line x1="513.9" y1="467.6" x2="506.1" y2="467.3"/><line x1="514.6" y1="465.5" x2="506.9" y2="465.1"/><line x1="515.4" y1="463.3" x2="511.6" y2="463.1"/><circle cx="519.4" cy="452.4" r="1.55" fill="#000" stroke="none"/>
<line x1="519.4" y1="465" x2="518.3" y2="483.5"/><line x1="518.3" y1="483.5" x2="510.7" y2="485.3"/><line x1="518.4" y1="481.2" x2="510.9" y2="483"/><line x1="518.6" y1="478.9" x2="511" y2="480.7"/><circle cx="519.4" cy="465" r="1.55" fill="#000" stroke="none"/>
<line x1="519.4" y1="474" x2="517.3" y2="492.4"/><line x1="517.3" y1="492.4" x2="509.7" y2="493.8"/><line x1="517.6" y1="490.1" x2="513.8" y2="490.8"/><circle cx="519.4" cy="474" r="1.55" fill="#000" stroke="none"/>
</g>
<line x1="13.5" y1="177.2" x2="15.5" y2="177.2" stroke="#000" stroke-width="0.8"/>
<text x="16.8" y="179.8" font-size="7.42" fill="#000" font-weight="bold">200</text>
<line x1="13.5" y1="256.8" x2="15.5" y2="256.8" stroke="#000" stroke-width="0.8"/>
<text x="16.8" y="259.4" font-size="7.42" fill="#000" font-weight="bold">300</text>
<line x1="13.5" y1="313.2" x2="15.5" y2="313.2" stroke="#000" stroke-width="0.8"/>
<text x="16.8" y="315.8" font-size="7.42" fill="#000" font-weight="bold">400</text>
<line x1="13.5" y1="357" x2="15.5" y2="357" stroke="#000" stroke-width="0.8"/>
<text x="16.8" y="359.6" font-size="7.42" fill="#000" font-weight="bold">500</text>
<line x1="13.5" y1="392.7" x2="15.5" y2="392.7" stroke="#000" stroke-width="0.8"/>
<text x="16.8" y="395.3" font-size="7.42" fill="#000" font-weight="bold">600</text>
<line x1="13.5" y1="423" x2="15.5" y2="423" stroke="#000" stroke-width="0.8"/>
<text x="16.8" y="425.6" font-size="7.42" fill="#000" font-weight="bold">700</text>
<line x1="13.5" y1="449.2" x2="15.5" y2="449.2" stroke="#000" stroke-width="0.8"/>
<text x="16.8" y="451.8" font-size="7.42" fill="#000" font-weight="bold">800</text>
<line x1="13.5" y1="472.3" x2="15.5" y2="472.3" stroke="#000" stroke-width="0.8"/>
<text x="16.8" y="474.9" font-size="7.42" fill="#000" font-weight="bold">900</text>
<line x1="13.5" y1="492.9" x2="15.5" y2="492.9" stroke="#000" stroke-width="0.8"/>
<text x="16.8" y="495.5" font-size="7.42" fill="#000" font-weight="bold">1000</text>
<text x="53.7" y="501.3" font-size="7.74" fill="#000" text-anchor="middle" font-weight="bold">−20</text>
<text x="109.8" y="501.3" font-size="7.74" fill="#000" text-anchor="middle" font-weight="bold">−10</text>
<text x="165.9" y="501.3" font-size="7.74" fill="#000" text-anchor="middle" font-weight="bold">0</text>
<text x="222" y="501.3" font-size="7.74" fill="#000" text-anchor="middle" font-weight="bold">10</text>
<text x="278.1" y="501.3" font-size="7.74" fill="#000" text-anchor="middle" font-weight="bold">20</text>
<text x="334.2" y="501.3" font-size="7.74" fill="#000" text-anchor="middle" font-weight="bold">30</text>
<text x="390.3" y="501.3" font-size="7.74" fill="#000" text-anchor="middle" font-weight="bold">40</text>
<text x="446.4" y="501.3" font-size="7.74" fill="#000" text-anchor="middle" font-weight="bold">50</text>
<text x="502.5" y="501.3" font-size="7.74" fill="#000" text-anchor="middle" font-weight="bold">60</text>
<text x="39" y="245.5" font-size="6.36" fill="#333">9km</text>
<text x="39" y="301.8" font-size="6.36" fill="#333">7km</text>
<text x="39" y="354.3" font-size="6.36" fill="#333">5km</text>
<text x="39" y="404.2" font-size="6.36" fill="#333">3km</text>
<text x="39" y="451.3" font-size="6.36" fill="#333">1km</text>
<text x="39" y="474.8" font-size="6.47" fill="#333" textLength="47.5" lengthAdjust="spacingAndGlyphs">-SFC (872m) -</text>
<text x="102" y="245.6" font-size="7.74" fill="#7fbf7f">26% →</text>
<text x="90" y="154.2" font-size="7.74" fill="#7fbf7f">29% →</text>
<text x="192" y="328.6" font-size="7.74" fill="#7fbf7f">80% →</text>
<text x="177" y="403.6" font-size="7.74" fill="#7fbf7f">35% →</text>
<text x="257.5" y="451.6" font-size="7.74" fill="#7fbf7f">95% →</text>
<text x="74" y="284.6" font-size="7.74" fill="#7fbf7f">HGZ</text>
<text x="90" y="370.5" font-size="7.74" fill="#eba0a0">8.6</text>
<text x="215" y="136.5" font-size="7.74" fill="#f58a8a">3206J/kg</text>
<text x="372.5" y="328.7" font-size="7.74" fill="#f58a8a">←931J/kg</text>
<text x="384" y="404.7" font-size="7.74" fill="#f58a8a">←90J/kg</text>
<text x="419.5" y="395" font-size="6.89" fill="#8fb0f0" font-weight="bold">←FRZ</text>
<text x="419.5" y="409.4" font-size="6.89" fill="#8fb0f0" font-weight="bold">←WB0</text>
<text x="448" y="137" font-size="8.59" fill="#8a8a8a" font-weight="bold">←MUEL</text>
<text x="448.5" y="431.5" font-size="8.59" fill="#8a8a8a" font-weight="bold">←MULFC</text>
<text x="448.5" y="461.5" font-size="8.59" fill="#8a8a8a" font-weight="bold">←SBLCL</text>
<text x="427" y="461" font-size="5.62" fill="#8a8a8a" font-weight="bold">←PBL</text>
<text x="276" y="483.2" font-size="7.1" fill="#7ba3ef" font-weight="bold">63°F</text>
<text x="319" y="483.2" font-size="7.1" fill="#ff3030" font-weight="bold">71°F</text>
<rect x="15.5" y="42.8" width="74.5" height="81" fill="#fff" fill-opacity="0.6" stroke="#ddd" stroke-width="0.6" rx="1"/>
<line x1="17.5" y1="48.8" x2="30.5" y2="48.8" stroke="#76aaf8" stroke-width="0.9"/>
<text x="34.2" y="50.9" font-size="5.83" fill="#111" stroke="#fff" stroke-width="0.25" paint-order="stroke">WETBULB TEMP</text>
<line x1="17.5" y1="57.5" x2="30.5" y2="57.5" stroke="#a33434" stroke-width="2.1" stroke-dasharray="0.1 4.2" stroke-linecap="round" stroke-dashoffset="-2"/>
<text x="34.2" y="59.6" font-size="5.83" fill="#111" stroke="#fff" stroke-width="0.25" paint-order="stroke">VIRTUAL TEMP</text>
<line x1="17.5" y1="66.2" x2="30.5" y2="66.2" stroke="#6495ed" stroke-width="2.6"/>
<text x="34.2" y="68.3" font-size="5.83" fill="#111" stroke="#fff" stroke-width="0.25" paint-order="stroke">DEWPOINT</text>
<line x1="17.5" y1="75" x2="30.5" y2="75" stroke="#ff0000" stroke-width="2.8"/>
<text x="34.2" y="77.1" font-size="5.83" fill="#111" stroke="#fff" stroke-width="0.25" paint-order="stroke">TEMPERATURE</text>
<line x1="17.5" y1="83.8" x2="30.5" y2="83.8" stroke="#e8141c" stroke-width="1.7" stroke-dasharray="6 2.6"/>
<text x="34.2" y="85.8" font-size="5.83" fill="#111" stroke="#fff" stroke-width="0.25" paint-order="stroke">MUECAPE PARCEL</text>
<line x1="17.5" y1="92.5" x2="30.5" y2="92.5" stroke="#cfcfcf" stroke-width="0.9" stroke-dasharray="3.5 2"/>
<text x="34.2" y="94.6" font-size="5.83" fill="#111" stroke="#fff" stroke-width="0.25" paint-order="stroke">SBCAPE PARCEL</text>
<line x1="17.5" y1="101.2" x2="30.5" y2="101.2" stroke="#b5b5b5" stroke-width="0.9" stroke-dasharray="3.5 2"/>
<text x="34.2" y="103.3" font-size="5.83" fill="#111" stroke="#fff" stroke-width="0.25" paint-order="stroke">MLCAPE PARCEL</text>
<line x1="17.5" y1="110" x2="30.5" y2="110" stroke="#b5b5b5" stroke-width="0.9" stroke-dasharray="3.5 2"/>
<text x="34.2" y="112.1" font-size="5.83" fill="#111" stroke="#fff" stroke-width="0.25" paint-order="stroke">MUCAPE PARCEL</text>
<line x1="17.5" y1="118.8" x2="30.5" y2="118.8" stroke="#d8b8e0" stroke-width="0.8" stroke-dasharray="3 1"/>
<text x="34.2" y="120.8" font-size="5.83" fill="#111" stroke="#fff" stroke-width="0.25" paint-order="stroke">DWNDRFT PARCEL</text>
<text x="39" y="122.4" font-size="6.36" fill="#444">11km</text>
<rect x="13.5" y="41.2" width="530" height="461.2" fill="none" stroke="#2e2e2e" stroke-width="0.75"/>
<rect x="543.5" y="41.2" width="37" height="461.2" fill="#fff"/>
<line x1="543.5" y1="177.5" x2="580.5" y2="177.5" stroke="#cbcbcb" stroke-width="1"/>
<line x1="543.5" y1="256.5" x2="580.5" y2="256.5" stroke="#cbcbcb" stroke-width="1"/>
<line x1="543.5" y1="313.5" x2="580.5" y2="313.5" stroke="#cbcbcb" stroke-width="1"/>
<line x1="543.5" y1="356.5" x2="580.5" y2="356.5" stroke="#cbcbcb" stroke-width="1"/>
<line x1="543.5" y1="392.5" x2="580.5" y2="392.5" stroke="#cbcbcb" stroke-width="1"/>
<line x1="543.5" y1="422.5" x2="580.5" y2="422.5" stroke="#cbcbcb" stroke-width="1"/>
<line x1="543.5" y1="449.5" x2="580.5" y2="449.5" stroke="#cbcbcb" stroke-width="1"/>
<line x1="543.5" y1="472.5" x2="580.5" y2="472.5" stroke="#cbcbcb" stroke-width="1"/>
<line x1="543.5" y1="492.5" x2="580.5" y2="492.5" stroke="#cbcbcb" stroke-width="1"/>
<rect x="557" y="41.2" width="4" height="90.3" fill="#ffb3b3" stroke="#f08c8c" stroke-width="0.5"/>
<rect x="557" y="131.6" width="4" height="96.2" fill="#ffb3b3" stroke="#f08c8c" stroke-width="0.5"/>
<rect x="554.3" y="227.8" width="2.7" height="64.5" fill="#c9daf8" stroke="#9db8ee" stroke-width="0.5"/>
<rect x="557" y="292.3" width="6.1" height="48.1" fill="#ffb3b3" stroke="#f08c8c" stroke-width="0.5"/>
<rect x="557" y="340.4" width="2.6" height="38.6" fill="#ffb3b3" stroke="#f08c8c" stroke-width="0.5"/>
<rect x="553.8" y="379" width="3.2" height="32" fill="#c9daf8" stroke="#9db8ee" stroke-width="0.5"/>
<rect x="557" y="411" width="13" height="28.6" fill="#ffb3b3" stroke="#f08c8c" stroke-width="0.5"/>
<rect x="557" y="439.6" width="7.4" height="23.2" fill="#ffb3b3" stroke="#f08c8c" stroke-width="0.5"/>
<line x1="557" y1="41.2" x2="557" y2="502.5" stroke="#333" stroke-width="0.65" stroke-dasharray="2 1.2"/>
<text x="557.6" y="74.8" font-size="5.94" fill="#000" font-weight="bold">1.4</text>
<text x="557.6" y="194.3" font-size="5.94" fill="#000" font-weight="bold">1.6</text>
<text x="555.4" y="269.3" font-size="5.94" fill="#000" text-anchor="end" font-weight="bold">-0.9</text>
<text x="557.6" y="322.8" font-size="5.94" fill="#000" font-weight="bold">2.3</text>
<text x="557.6" y="365" font-size="5.94" fill="#000" font-weight="bold">0.9</text>
<text x="555.4" y="399.3" font-size="5.94" fill="#000" text-anchor="end" font-weight="bold">-1.2</text>
<text x="557.6" y="428.3" font-size="5.94" fill="#000" font-weight="bold">5.0</text>
<text x="557.6" y="454.3" font-size="5.94" fill="#000" font-weight="bold">2.9</text>
<rect x="543.5" y="41.2" width="37" height="461.2" fill="none" stroke="#2e2e2e" stroke-width="0.75"/>
<defs><clipPath id="ch"><rect x="580.5" y="41.2" width="427" height="461.2"/></clipPath></defs>
<rect x="580.5" y="41.2" width="427" height="461.2" fill="#fff"/>
<g clip-path="url(#ch)">
<circle cx="710.8" cy="347.4" r="37.9" fill="none" stroke="#cacaca" stroke-width="0.6" stroke-dasharray="3 1.6"/>
<circle cx="710.8" cy="347.4" r="75.8" fill="none" stroke="#9c9c9c" stroke-width="0.7"/>
<circle cx="710.8" cy="347.4" r="113.7" fill="none" stroke="#cacaca" stroke-width="0.6" stroke-dasharray="3 1.6"/>
<circle cx="710.8" cy="347.4" r="151.6" fill="none" stroke="#9c9c9c" stroke-width="0.7"/>
<circle cx="710.8" cy="347.4" r="189.5" fill="none" stroke="#cacaca" stroke-width="0.6" stroke-dasharray="3 1.6"/>
<circle cx="710.8" cy="347.4" r="227.4" fill="none" stroke="#9c9c9c" stroke-width="0.7"/>
<circle cx="710.8" cy="347.4" r="265.3" fill="none" stroke="#cacaca" stroke-width="0.6" stroke-dasharray="3 1.6"/>
<circle cx="710.8" cy="347.4" r="303.2" fill="none" stroke="#9c9c9c" stroke-width="0.7"/>
<circle cx="710.8" cy="347.4" r="341.1" fill="none" stroke="#cacaca" stroke-width="0.6" stroke-dasharray="3 1.6"/>
<circle cx="710.8" cy="347.4" r="379" fill="none" stroke="#9c9c9c" stroke-width="0.7"/>
<circle cx="710.8" cy="347.4" r="416.9" fill="none" stroke="#cacaca" stroke-width="0.6" stroke-dasharray="3 1.6"/>
<circle cx="710.8" cy="347.4" r="454.8" fill="none" stroke="#9c9c9c" stroke-width="0.7"/>
<circle cx="710.8" cy="347.4" r="492.7" fill="none" stroke="#cacaca" stroke-width="0.6" stroke-dasharray="3 1.6"/>
<line x1="580.5" y1="347.4" x2="1007.5" y2="347.4" stroke="#a2a2a2" stroke-width="0.7" stroke-dasharray="3 1"/>
<line x1="710.8" y1="41.2" x2="710.8" y2="502.5" stroke="#9c9c9c" stroke-width="0.7" stroke-dasharray="2.5 1.2"/>
<text x="749.5" y="346.6" font-size="7.21" fill="#c0c0c0">10</text>
<text x="673.7" y="346.6" font-size="7.21" fill="#c0c0c0">10</text>
<text x="711.2" y="308.8" font-size="7.21" fill="#c0c0c0">10</text>
<text x="711.2" y="384.6" font-size="7.21" fill="#c0c0c0">10</text>
<text x="825.3" y="346.6" font-size="7.21" fill="#c0c0c0">30</text>
<text x="597.9" y="346.6" font-size="7.21" fill="#c0c0c0">30</text>
<text x="711.2" y="233" font-size="7.21" fill="#c0c0c0">30</text>
<text x="711.2" y="460.4" font-size="7.21" fill="#c0c0c0">30</text>
<text x="901.1" y="346.6" font-size="7.21" fill="#c0c0c0">50</text>
<text x="522.1" y="346.6" font-size="7.21" fill="#c0c0c0">50</text>
<text x="711.2" y="157.2" font-size="7.21" fill="#c0c0c0">50</text>
<text x="711.2" y="536.2" font-size="7.21" fill="#c0c0c0">50</text>
<text x="976.9" y="346.6" font-size="7.21" fill="#c0c0c0">70</text>
<text x="446.3" y="346.6" font-size="7.21" fill="#c0c0c0">70</text>
<text x="711.2" y="81.4" font-size="7.21" fill="#c0c0c0">70</text>
<text x="711.2" y="612" font-size="7.21" fill="#c0c0c0">70</text>
<polygon points="716.4,288.2 719.7,242.2 723,230.2 729.5,220.3 739.4,208.3 752.5,198.4 758,206.1 765.6,209.4 770,211.1 787.5,216 793,219 810.5,297.6" fill="#add8e6" fill-opacity="0.32" stroke="#add8e6" stroke-opacity="0.6" stroke-width="0.7"/>
<line x1="710.8" y1="347.4" x2="809" y2="298.4" stroke="#b3b3b3" stroke-width="1.4"/>
<path d="M810.5 297.6 l-5.2 0.3 l1.6 3 z" fill="#b3b3b3"/>
<path d="M716.4 288.2 L719.7 242.2 L723 230.2 L729.5 220.3 L739.4 208.3 L752.5 198.4 L758 206.1 L765.6 209.4 L770 211.1" stroke="#800080" stroke-width="4.1" fill="none" stroke-linejoin="round" stroke-linecap="butt"/>
<path d="M770 211.1 L787.5 216 L807.2 225.8 L819.9 237.8 L820.4 257.5 L818.2 266.3 L812.7 273.9 L802.8 278.8 L783.2 288.2 L772.2 284.9 L752.1 283.8" stroke="#ff0000" stroke-width="4.1" fill="none" stroke-linejoin="round" stroke-linecap="butt"/>
<path d="M752.1 283.8 L781 226.2 L824.7 211.1 L796.3 222.5 L796.3 244.4 L848.8 251" stroke="#ff8c00" stroke-width="4.1" fill="none" stroke-linejoin="round" stroke-linecap="butt"/>
<path d="M848.6 250.8 L865.6 239.1 L879.9 229.3 L889.3 219.9 L881.1 214.2 L875.6 208.2 L870.8 211.8 L876.1 225 L879 229.3" stroke="#ffc80a" stroke-width="4.1" fill="none" stroke-linejoin="round" stroke-linecap="butt"/>
<path d="M879 229.3 L937.5 188.1 L934.9 219" stroke="#ffeb9c" stroke-width="4.1" fill="none" stroke-linejoin="round" stroke-linecap="butt"/>
<ellipse cx="770.7" cy="211.1" rx="4.7" ry="4.5" fill="#fff" stroke="#111" stroke-width="0.8"/>
<text x="770.7" y="213.3" font-size="6.36" fill="#000" text-anchor="middle" font-weight="bold">1</text>
<ellipse cx="802.8" cy="278.8" rx="4.7" ry="4.5" fill="#fff" stroke="#111" stroke-width="0.8"/>
<text x="802.8" y="281" font-size="6.36" fill="#000" text-anchor="middle" font-weight="bold">2</text>
<ellipse cx="752.1" cy="283.8" rx="4.7" ry="4.5" fill="#fff" stroke="#111" stroke-width="0.8"/>
<text x="752.1" y="286" font-size="6.36" fill="#000" text-anchor="middle" font-weight="bold">3</text>
<ellipse cx="781" cy="226.2" rx="4.7" ry="4.5" fill="#fff" stroke="#111" stroke-width="0.8"/>
<text x="781" y="228.4" font-size="6.36" fill="#000" text-anchor="middle" font-weight="bold">4</text>
<ellipse cx="797.8" cy="228.6" rx="4.7" ry="4.5" fill="#fff" stroke="#111" stroke-width="0.8"/>
<text x="797.8" y="230.8" font-size="6.36" fill="#000" text-anchor="middle" font-weight="bold">5</text>
<ellipse cx="730" cy="220.8" rx="4.7" ry="4.5" fill="#fff" stroke="#111" stroke-width="0.8"/>
<text x="730" y="223" font-size="5.62" fill="#000" text-anchor="middle" font-weight="bold">.5</text>
<ellipse cx="848.7" cy="251" rx="4.7" ry="4.5" fill="#fff" stroke="#111" stroke-width="0.8"/>
<text x="848.7" y="253.2" font-size="6.36" fill="#000" text-anchor="middle" font-weight="bold">6</text>
<ellipse cx="865.6" cy="239.1" rx="4.7" ry="4.5" fill="#fff" stroke="#111" stroke-width="0.8"/>
<text x="865.6" y="241.3" font-size="6.36" fill="#000" text-anchor="middle" font-weight="bold">7</text>
<ellipse cx="881.1" cy="214.2" rx="4.7" ry="4.5" fill="#fff" stroke="#111" stroke-width="0.8"/>
<text x="881.1" y="216.4" font-size="6.36" fill="#000" text-anchor="middle" font-weight="bold">8</text>
<ellipse cx="876.1" cy="225" rx="4.7" ry="4.5" fill="#fff" stroke="#111" stroke-width="0.8"/>
<text x="876.1" y="227.2" font-size="6.36" fill="#000" text-anchor="middle" font-weight="bold">9</text>
<ellipse cx="935.1" cy="211" rx="4.7" ry="4.5" fill="#fff" stroke="#111" stroke-width="0.8"/>
<text x="935.1" y="213.2" font-size="5.62" fill="#000" text-anchor="middle" font-weight="bold">11</text>
<text x="765.6" y="199" font-size="7.74" fill="#000" font-weight="bold">LM</text>
<text x="805.6" y="247.8" font-size="7.74" fill="#000" font-weight="bold">MW</text>
<text x="812.7" y="299.3" font-size="7.74" fill="#000" font-weight="bold">RM</text>
<text x="764" y="273" font-size="5.94" fill="#9b2d30" text-anchor="middle" font-weight="bold">DTM</text>
<path d="M761.3 278.2 h5.6 l-2.8 4.4 z" fill="#a23a3d"/>
<text x="857" y="260" font-size="6.68" fill="#f9c255" text-anchor="middle">DN</text>
<text x="760" y="361.8" font-size="6.68" fill="#f9c255" text-anchor="middle">UP</text>
</g>
<text x="589.6" y="51.8" font-size="8.64" fill="#666" font-weight="bold" textLength="167" lengthAdjust="spacingAndGlyphs">SM: RIGHT MOVING | ENE @ 29 kts</text>
<text x="589.6" y="64.8" font-size="8.54" fill="#7a7a7a">RM: ENE @ 29 kts</text>
<text x="589.6" y="81.2" font-size="8.54" fill="#7a7a7a">LM: NNE @ 42 kts</text>
<text x="589.6" y="97.5" font-size="8.54" fill="#7a7a7a">MW: NE @ 36 kts</text>
<text x="586.7" y="113.8" font-size="8.54" fill="#7a7a7a">DTM: NE @ 22 kts</text>
<text x="589.6" y="130.2" font-size="8.54" fill="#7a7a7a">US: ESE @ 13 kts</text>
<text x="589.6" y="146.6" font-size="8.54" fill="#7a7a7a">DS: ENE @ 45 kts</text>
<rect x="580.5" y="394" width="108.4" height="108.5" fill="#fff" stroke="#707070" stroke-width="0.8"/>
<path d="M592.8 400.6 L688.4 400.6 M610.6 412.9 L688.4 412.9 M610.6 425.5 L688.4 425.5 M610.6 437.1 L688.4 437.1 M610.6 449.3 L688.4 449.3 M610.6 461.1 L688.4 461.1 M599.4 472.4 L659.4 472.4 M659.4 476.1 L675.3 476.1 M631.3 487.4 L675.3 487.4 M622.8 394.2 L622.8 437.1 M637.4 394.2 L637.4 437.1 M651.5 394.2 L651.5 437.1 M665.6 394.2 L665.6 437.1 M680 394.2 L680 437.1 M633.7 437.1 L633.7 461.1 M647.2 437.1 L647.2 461.1 M661.6 437.1 L661.6 461.1 M675.9 437.1 L675.9 461.1 M618.1 461.1 L618.1 479.9 M631.3 461.1 L631.3 487.4 M645.9 461.1 L645.9 488.3 M659.4 461.1 L659.4 487.4 M671.9 461.1 L671.9 472.4 M675.3 476.1 L675.3 487.4 M667.8 487.4 L667.8 502 M587.2 394.2 L587.2 406.8 L589.1 406.8 L589.1 414.3 L591.9 414.3 L592.8 419.9 L598.4 419.9 M591.9 419.9 L591.5 449.9 L593.8 449.9 L593.8 463 M580.3 437.7 L591.5 437.7 M583.4 464.9 L589.1 470.5 L598.4 473.3 L603.1 478.9 L615.3 481.8 L625.6 485.5 L629.4 489.3 L639.7 492.1 L644.4 497.7 L649.1 502 M582.5 485.5 L595.6 496.8 L603.1 502 M610.6 479.9 L597.5 496.8" stroke="#dedede" stroke-width="0.6" fill="none"/>
<path d="M580.5 463 H610.6 V394" stroke="#111" stroke-width="1.3" fill="none"/>
<circle cx="634.7" cy="464.6" r="2.7" fill="none" stroke="#000" stroke-width="0.8"/><path d="M629.7 464.6 H639.7 M634.7 459.6 V469.6" stroke="#000" stroke-width="0.7"/>
<rect x="915.4" y="426.2" width="92.1" height="76.3" fill="#fff" stroke="#333" stroke-width="0.7"/>
<text x="923.3" y="438.2" font-size="7.632000000000001" font-weight="bold" fill="#000">0-3<tspan font-size="4.6080000000000005">km</tspan> SRH,</text>
<text x="976.5" y="438.2" font-size="7.63" fill="#000" font-weight="bold">BWD</text>
<text x="923.3" y="451.3" font-size="7.63" fill="#4a6fe3" font-weight="bold">261 m²/s²</text>
<text x="993.5" y="451.3" font-size="7.63" fill="#4a6fe3" text-anchor="end" font-weight="bold">9 kt</text>
<text x="923.3" y="462.6" font-size="7.632000000000001" font-weight="bold" fill="#000">0-6<tspan font-size="4.6080000000000005">km</tspan> SRH,</text>
<text x="976.5" y="462.6" font-size="7.63" fill="#000" font-weight="bold">BWD</text>
<text x="923.3" y="474.8" font-size="7.63" fill="#4a6fe3" font-weight="bold">406 m²/s²</text>
<text x="996" y="474.8" font-size="7.63" fill="#4a6fe3" text-anchor="end" font-weight="bold">36 kt</text>
<text x="928" y="487.8" font-size="7.63" fill="#000" text-anchor="middle" font-weight="bold">SCP</text>
<text x="950.3" y="487.8" font-size="7.63" fill="#000" text-anchor="middle" font-weight="bold">STP</text>
<text x="973.6" y="487" font-size="7.63" fill="#000" text-anchor="middle" font-weight="bold">EHI</text>
<text x="996.8" y="487" font-size="7.63" fill="#000" text-anchor="middle" font-weight="bold">EHI</text>
<text x="973.6" y="491.6" font-size="3.82" fill="#000" text-anchor="middle" font-weight="bold">0−1km</text>
<text x="996.8" y="491.6" font-size="3.82" fill="#000" text-anchor="middle" font-weight="bold">0−3km</text>
<text x="928" y="499.3" font-size="7.63" fill="#c23b3b" text-anchor="middle" font-weight="bold">14</text>
<text x="950.3" y="499.3" font-size="7.63" fill="#d94141" text-anchor="middle" font-weight="bold">4</text>
<text x="973.6" y="499.3" font-size="7.63" fill="#ff7438" text-anchor="middle" font-weight="bold">4</text>
<text x="996.8" y="499.3" font-size="7.63" fill="#ff5a28" text-anchor="middle" font-weight="bold">5</text>
<rect x="580.5" y="41.2" width="427" height="461.2" fill="none" stroke="#2e2e2e" stroke-width="0.75"/>
<rect x="13.5" y="502.5" width="372.4" height="97.6" fill="#fff" stroke="#2e2e2e" stroke-width="0.75"/>
<text x="78.9" y="519.1" font-size="8.48" fill="#000" text-anchor="middle" font-weight="bold">SR-ECAPE</text>
<text x="136.3" y="519.1" font-size="8.48" fill="#000" text-anchor="middle" font-weight="bold">CAPE</text>
<text x="192.6" y="519.1" font-size="8.48" fill="#000" text-anchor="middle" font-weight="bold">6CAPE</text>
<text x="251.2" y="519.1" font-size="8.48" fill="#000" text-anchor="middle" font-weight="bold">3CAPE</text>
<text x="305.5" y="519.1" font-size="8.48" fill="#000" text-anchor="middle" font-weight="bold">CIN</text>
<text x="359" y="519.1" font-size="8.48" fill="#000" text-anchor="middle" font-weight="bold">LCL</text>
<text x="18.8" y="535.8" font-size="8.48" fill="#000" font-weight="bold">SB:</text>
<text x="78" y="535.8" font-size="8.48" fill="#b32025" text-anchor="middle" font-weight="bold">2197 J/kg</text>
<text x="137.5" y="535.8" font-size="8.48" fill="#f4511e" text-anchor="middle" font-weight="bold">2757 J/kg</text>
<text x="194.5" y="535.8" font-size="8.48" fill="#f4511e" text-anchor="middle" font-weight="bold">801 J/kg</text>
<text x="250" y="535.8" font-size="8.48" fill="#f4511e" text-anchor="middle" font-weight="bold">52 J/kg</text>
<text x="307.5" y="535.8" font-size="8.48" fill="#f4511e" text-anchor="middle" font-weight="bold">-37 J/kg</text>
<text x="359.5" y="535.8" font-size="8.48" fill="#f4511e" text-anchor="middle" font-weight="bold">538 m</text>
<text x="18.8" y="551.9" font-size="8.48" fill="#000" font-weight="bold">MU:</text>
<text x="78" y="551.9" font-size="8.48" fill="#b32025" text-anchor="middle" font-weight="bold">2557 J/kg</text>
<text x="137.5" y="551.9" font-size="8.48" fill="#f4511e" text-anchor="middle" font-weight="bold">3206 J/kg</text>
<text x="194.5" y="551.9" font-size="8.48" fill="#f4511e" text-anchor="middle" font-weight="bold">931 J/kg</text>
<text x="250" y="551.9" font-size="8.48" fill="#f4511e" text-anchor="middle" font-weight="bold">90 J/kg</text>
<text x="307.5" y="551.9" font-size="8.48" fill="#f4511e" text-anchor="middle" font-weight="bold">-16 J/kg</text>
<text x="359.5" y="551.9" font-size="8.48" fill="#f4511e" text-anchor="middle" font-weight="bold">452 m</text>
<text x="18.8" y="568.2" font-size="8.48" fill="#000" font-weight="bold">ML:</text>
<text x="78" y="568.2" font-size="8.48" fill="#b32025" text-anchor="middle" font-weight="bold">2211 J/kg</text>
<text x="137.5" y="568.2" font-size="8.48" fill="#f4511e" text-anchor="middle" font-weight="bold">3090 J/kg</text>
<text x="194.5" y="568.2" font-size="8.48" fill="#f4511e" text-anchor="middle" font-weight="bold">896 J/kg</text>
<text x="250" y="568.2" font-size="8.48" fill="#f4511e" text-anchor="middle" font-weight="bold">79 J/kg</text>
<text x="307.5" y="568.2" font-size="8.48" fill="#f4511e" text-anchor="middle" font-weight="bold">-20 J/kg</text>
<text x="359.5" y="568.2" font-size="8.48" fill="#f4511e" text-anchor="middle" font-weight="bold">483 m</text>
<text x="18.8" y="582.3" font-size="8.48" fill="#000" font-weight="bold">DCAPE:</text>
<text x="18.8" y="593.3" font-size="8.48" fill="#000" font-weight="bold">DCIN:</text>
<text x="59.8" y="582.3" font-size="8.48" fill="#8fb4f3" font-weight="bold">1052 J/kg</text>
<text x="59.8" y="593.3" font-size="8.48" fill="#8fb4f3" font-weight="bold">0 J/kg</text>
<text x="120.3" y="590.4" font-size="8.48" fill="#000" font-weight="bold">MUNCAPE:</text>
<text x="173.8" y="590.4" font-size="8.48" fill="#cd5c5c" font-weight="bold">0.3</text>
<text x="207" y="590.4" font-size="9.01" font-weight="bold" fill="#000">Γ<tspan font-size="5.3">0−3</tspan>:</text>
<text x="234.4" y="590.4" font-size="8.48" fill="#a0522d" font-weight="bold">6 Δ°C/km</text>
<text x="289.8" y="590.4" font-size="9.01" font-weight="bold" fill="#000">Γ<tspan font-size="5.3">3−6</tspan>:</text>
<text x="320.3" y="590.4" font-size="8.48" fill="#a0522d" font-weight="bold">7 Δ°C/km</text>
<circle cx="31.9" cy="616.7" r="13.6" fill="#e6ecf6" stroke="#7a7a7a" stroke-width="0.8"/>
<text x="32.2" y="615.3" font-size="4.77" fill="#111" text-anchor="middle" font-weight="bold">SOUNDER</text>
<text x="32.8" y="622" font-size="8.6"><tspan fill="#3fae49">P</tspan><tspan fill="#e02424">Y</tspan></text>
<text x="32" y="627.6" font-size="2.76" fill="#666" text-anchor="middle">VERSION</text>
<text x="56.6" y="614.2" font-size="11.5" fill="#a9c3f5" font-weight="bold" textLength="310" lengthAdjust="spacingAndGlyphs">SOUNDERPY VERTICAL PROFILE ANALYSIS TOOL</text>
<text x="86.7" y="625" font-size="8.65" fill="#a9c3f5" font-weight="bold" textLength="249.5" lengthAdjust="spacingAndGlyphs">(C) KYLE J GILLETT | sounderpysoundings.anvil.app</text>
<rect x="385.9" y="502.5" width="137.9" height="124.8" fill="#fff" stroke="#2e2e2e" stroke-width="0.75"/>
<text x="449.5" y="519.1" font-size="8.48" fill="#000" text-anchor="middle" font-weight="bold">RH(%)</text>
<text x="490.5" y="519.1" font-size="8.48" fill="#000" text-anchor="middle" font-weight="bold">ω</text>
<text x="395.7" y="535.9" font-size="8.48" font-weight="bold" fill="#000">0-.5<tspan font-size="5.6">km</tspan>:</text>
<line x1="396.2" y1="526.1" x2="409.3" y2="526.1" stroke="#111" stroke-width="0.7"/>
<text x="448.4" y="535.9" font-size="8.48" fill="#2f9438" text-anchor="middle" font-weight="bold">87 %</text>
<text x="468.8" y="535.9" font-size="8.48" fill="#2f9438" font-weight="bold">14.5 g/kg</text>
<text x="395.7" y="551.9" font-size="8.48" font-weight="bold" fill="#000">0-1<tspan font-size="5.6">km</tspan>:</text>
<line x1="396.2" y1="542.1" x2="409.3" y2="542.1" stroke="#111" stroke-width="0.7"/>
<text x="448.4" y="551.9" font-size="8.48" fill="#2f9438" text-anchor="middle" font-weight="bold">92 %</text>
<text x="468.8" y="551.9" font-size="8.48" fill="#2f9438" font-weight="bold">14.0 g/kg</text>
<text x="395.7" y="568.2" font-size="8.48" font-weight="bold" fill="#000">1-3<tspan font-size="5.6">km</tspan>:</text>
<line x1="396.2" y1="558.4" x2="409.3" y2="558.4" stroke="#111" stroke-width="0.7"/>
<text x="448.4" y="568.2" font-size="8.48" fill="#41a049" text-anchor="middle" font-weight="bold">61 %</text>
<text x="468.8" y="568.2" font-size="8.48" fill="#41a049" font-weight="bold">7.2 g/kg</text>
<text x="395.7" y="584.3" font-size="8.48" font-weight="bold" fill="#000">3-6<tspan font-size="5.6">km</tspan>:</text>
<line x1="396.2" y1="574.5" x2="409.3" y2="574.5" stroke="#111" stroke-width="0.7"/>
<text x="448.4" y="584.3" font-size="8.48" fill="#62b569" text-anchor="middle" font-weight="bold">46 %</text>
<text x="468.8" y="584.3" font-size="8.48" fill="#62b569" font-weight="bold">1.7 g/kg</text>
<text x="395.7" y="600.5" font-size="8.48" font-weight="bold" fill="#000">6-9<tspan font-size="5.6">km</tspan>:</text>
<line x1="396.2" y1="590.7" x2="409.3" y2="590.7" stroke="#111" stroke-width="0.7"/>
<text x="448.4" y="600.5" font-size="8.48" fill="#82c688" text-anchor="middle" font-weight="bold">37 %</text>
<text x="468.8" y="600.5" font-size="8.48" fill="#82c688" font-weight="bold">0.4 g/kg</text>
<text x="395.6" y="613.2" font-size="6.78" fill="#000" font-weight="bold">PWAT:</text>
<text x="428" y="613.2" font-size="6.78" fill="#2e8b33" font-weight="bold">1.22 in</text>
<text x="466" y="613.2" font-size="6.78" fill="#000" font-weight="bold">WB:</text>
<text x="490.5" y="613.2" font-size="6.78" fill="#2e8b33" font-weight="bold">18 °C</text>
<text x="395.6" y="624.2" font-size="6.78" fill="#000" font-weight="bold">FRZ:</text>
<text x="428" y="624.2" font-size="6.78" fill="#7da6f3" font-weight="bold">3400m</text>
<text x="463" y="624.2" font-size="6.78" fill="#000" font-weight="bold">WB0:</text>
<text x="488.6" y="624.2" font-size="6.78" fill="#7da6f3" font-weight="bold">2800m</text>
<rect x="523.8" y="502.5" width="243.5" height="124.8" fill="#fff" stroke="#2e2e2e" stroke-width="0.75"/>
<text x="585.9" y="519.1" font-size="8.48" fill="#000" text-anchor="middle" font-weight="bold">BWD</text>
<text x="628.8" y="519.1" font-size="8.48" fill="#000" text-anchor="middle" font-weight="bold">SRH</text>
<text x="671" y="519.1" font-size="8.48" fill="#000" text-anchor="middle" font-weight="bold">SRW</text>
<text x="706.2" y="519.1" font-size="8.48" fill="#000" text-anchor="middle" font-weight="bold">SWζ%</text>
<text x="743.2" y="519.1" font-size="8.48" fill="#000" text-anchor="middle" font-weight="bold">SWζ</text>
<text x="532.4" y="535.9" font-size="8.48" font-weight="bold" fill="#000">0-.5<tspan font-size="5.6">km</tspan>:</text>
<text x="584.3" y="535.9" font-size="8.48" fill="#6f9df0" text-anchor="middle" font-weight="bold">17 kt</text>
<text x="605.7" y="535.9" font-size="8.48" fill="#6f9df0" font-weight="bold">124 m²/s²</text>
<text x="672.2" y="535.9" font-size="8.48" fill="#6f9df0" text-anchor="middle" font-weight="bold">27 kt</text>
<text x="704.2" y="535.9" font-size="8.48" fill="#6f9df0" text-anchor="middle" font-weight="bold">96</text>
<text x="744" y="535.9" font-size="8.48" fill="#6f9df0" text-anchor="middle" font-weight="bold">0.018</text>
<text x="532.4" y="551.9" font-size="8.48" font-weight="bold" fill="#000">0-1<tspan font-size="5.6">km</tspan>:</text>
<text x="584.3" y="551.9" font-size="8.48" fill="#8470e8" text-anchor="middle" font-weight="bold">24 kt</text>
<text x="605.7" y="551.9" font-size="8.48" fill="#8470e8" font-weight="bold">210 m²/s²</text>
<text x="672.2" y="551.9" font-size="8.48" fill="#8470e8" text-anchor="middle" font-weight="bold">24 kt</text>
<text x="704.2" y="551.9" font-size="8.48" fill="#8470e8" text-anchor="middle" font-weight="bold">85</text>
<text x="744" y="551.9" font-size="8.48" fill="#8470e8" text-anchor="middle" font-weight="bold">0.015</text>
<text x="532.4" y="568.2" font-size="8.48" font-weight="bold" fill="#000">1-3<tspan font-size="5.6">km</tspan>:</text>
<text x="584.3" y="568.2" font-size="8.48" fill="#4a6fe3" text-anchor="middle" font-weight="bold">19 kt</text>
<text x="605.7" y="568.2" font-size="8.48" fill="#4a6fe3" font-weight="bold">51 m²/s²</text>
<text x="672.2" y="568.2" font-size="8.48" fill="#4a6fe3" text-anchor="middle" font-weight="bold">20 kt</text>
<text x="704.2" y="568.2" font-size="8.48" fill="#4a6fe3" text-anchor="middle" font-weight="bold">41</text>
<text x="744" y="568.2" font-size="8.48" fill="#4a6fe3" text-anchor="middle" font-weight="bold">0.006</text>
<text x="532.4" y="584.3" font-size="8.48" font-weight="bold" fill="#000">3-6<tspan font-size="5.6">km</tspan>:</text>
<text x="584.3" y="584.3" font-size="8.48" fill="#0b0bcf" text-anchor="middle" font-weight="bold">26 kt</text>
<text x="605.7" y="584.3" font-size="8.48" fill="#0b0bcf" font-weight="bold">144 m²/s²</text>
<text x="672.2" y="584.3" font-size="8.48" fill="#0b0bcf" text-anchor="middle" font-weight="bold">15 kt</text>
<text x="704.2" y="584.3" font-size="8.48" fill="#0b0bcf" text-anchor="middle" font-weight="bold">80</text>
<text x="744" y="584.3" font-size="8.48" fill="#0b0bcf" text-anchor="middle" font-weight="bold">0.008</text>
<text x="532.4" y="600.5" font-size="8.48" font-weight="bold" fill="#000">6-9<tspan font-size="5.6">km</tspan>:</text>
<text x="584.3" y="600.5" font-size="8.48" fill="#00008b" text-anchor="middle" font-weight="bold">10 kt</text>
<text x="605.7" y="600.5" font-size="8.48" fill="#00008b" font-weight="bold">-5 m²/s²</text>
<text x="672.2" y="600.5" font-size="8.48" fill="#00008b" text-anchor="middle" font-weight="bold">20 kt</text>
<text x="704.2" y="600.5" font-size="8.48" fill="#00008b" text-anchor="middle" font-weight="bold">46</text>
<text x="744" y="600.5" font-size="8.48" fill="#00008b" text-anchor="middle" font-weight="bold">0.002</text>
<text x="532.4" y="616.5" font-size="8.48" fill="#000" font-weight="bold">EIL:</text>
<text x="584.3" y="616.5" font-size="8.48" fill="#00008b" text-anchor="middle" font-weight="bold">26 kt</text>
<text x="605.7" y="616.5" font-size="8.48" fill="#00008b" font-weight="bold">229 m²/s²</text>
<text x="672.2" y="616.5" font-size="8.48" fill="#00008b" text-anchor="middle" font-weight="bold">23 kt</text>
<text x="704.2" y="616.5" font-size="8.48" fill="#00008b" text-anchor="middle" font-weight="bold">83</text>
<text x="744" y="616.5" font-size="8.48" fill="#00008b" text-anchor="middle" font-weight="bold">0.015</text>
<rect x="767.6" y="502.5" width="239.9" height="124.8" fill="#fff"/>
<rect x="767.6" y="583.2" width="239.9" height="44.1" fill="#eaf3f9"/>
<defs><clipPath id="cp0"><rect x="767.6" y="502.5" width="59.4" height="124.8"/></clipPath></defs>
<defs><clipPath id="cp1"><rect x="827" y="502.5" width="60.4" height="124.8"/></clipPath></defs>
<defs><clipPath id="cp2"><rect x="887.4" y="502.5" width="60.4" height="124.8"/></clipPath></defs>
<defs><clipPath id="cp3"><rect x="947.8" y="502.5" width="59.7" height="124.8"/></clipPath></defs>
<line x1="767.6" y1="523.3" x2="1007.5" y2="523.3" stroke="#c4c4c4" stroke-width="0.7"/>
<line x1="767.6" y1="544.1" x2="1007.5" y2="544.1" stroke="#c4c4c4" stroke-width="0.7"/>
<line x1="767.6" y1="564.9" x2="1007.5" y2="564.9" stroke="#c4c4c4" stroke-width="0.7"/>
<line x1="767.6" y1="585.7" x2="1007.5" y2="585.7" stroke="#c4c4c4" stroke-width="0.7"/>
<line x1="767.6" y1="606.5" x2="1007.5" y2="606.5" stroke="#c4c4c4" stroke-width="0.7"/>
<g clip-path="url(#cp0)">
<polygon points="767.6,627.5 825,627.5 819,619.7 818,614.9 824.1,608.8 825,600 823.4,597.8 764.6,595.2 767.6,595.2" fill="#dde7f8"/>
<polygon points="764.6,591.6 781.9,589.1 795,585.8 795,585.8 807,577.7 795,573.3 764.6,570.3" fill="#dde7f8"/>
<polygon points="764.6,551.6 825.6,544.2 814.7,539.8 764.6,534.5" fill="#dde7f8"/>
<path d="M825 627.5 L819 619.7 L818 614.9 L824.1 608.8 L825 600 L823.4 597.8 L764.6 595.2" stroke="#800080" stroke-width="2" fill="none" stroke-linejoin="round"/>
<path d="M764.6 591.6 L781.9 589.1 L795 585.8" stroke="#800080" stroke-width="2" fill="none" stroke-linejoin="round"/>
<path d="M795 585.8 L807 577.7 L795 573.3 L764.6 570.3" stroke="#ff0000" stroke-width="2" fill="none" stroke-linejoin="round"/>
<path d="M764.6 551.6 L825.6 544.2 L814.7 539.8 L764.6 534.5" stroke="#ff0000" stroke-width="2" fill="none" stroke-linejoin="round"/>
</g>
<text x="774.2" y="606.8" font-size="5.57" fill="#000" font-weight="bold">.5 km</text>
<text x="774.2" y="586.2" font-size="5.57" fill="#000" font-weight="bold">1 km</text>
<text x="774.2" y="565.5" font-size="5.57" fill="#000" font-weight="bold">1.5 km</text>
<text x="774.2" y="544.8" font-size="5.57" fill="#000" font-weight="bold">2 km</text>
<text x="797.6" y="513" font-size="5.88" fill="#000" text-anchor="middle" font-weight="bold">Streamwiseness</text>
<text x="797.6" y="519.1" font-size="5.88" fill="#000" text-anchor="middle" font-weight="bold">of ζ (%)</text>
<text x="776.4" y="625.2" font-size="5.3" fill="#5a5a5a" text-anchor="middle" font-style="italic">50</text>
<text x="796.1" y="625.2" font-size="5.3" fill="#5a5a5a" text-anchor="middle" font-style="italic">70</text>
<text x="815.8" y="625.2" font-size="5.3" fill="#5a5a5a" text-anchor="middle" font-style="italic">90</text>
<g clip-path="url(#cp1)">
<polygon points="827,502 827.9,502 830.8,507.7 833.7,514.5 834.7,524.3 835.2,532.1 840,536.2 842,540.9 842.7,544.2 835.5,551.9 834.4,567.2 853,578.1 856.3,581 835.5,591.3 834.4,594.5 848.6,602.2 844.2,613.1 848.6,627.5 827,627.5" fill="#e6e6e6"/>
<polygon points="827,502 827.4,502 829.4,514.5 827.9,524.3 828.4,532.1 837.7,538 840.9,540.9 842,545.3 830,553 828.3,568.3 848.6,578.1 850.1,581 833.3,591.3 828.3,593.9 848.6,602.2 843.8,613.1 847.9,627.5 827,627.5" fill="#f3dfc0"/>
<path d="M827.9 502 L830.8 507.7 L833.7 514.5 L834.7 524.3 L835.2 532.1 L840 536.2 L842 540.9 L842.7 544.2 L835.5 551.9 L834.4 567.2 L853 578.1 L856.3 581 L835.5 591.3 L834.4 594.5 L848.6 602.2 L844.2 613.1 L848.6 627.5" stroke="#8e8e8e" stroke-width="2.3" fill="none" stroke-linejoin="round"/>
<path d="M827.4 502 L829.4 514.5 L827.9 524.3 L828.4 532.1 L837.7 538 L840.9 540.9 L842 545.3 L830 553 L828.3 568.3 L848.6 578.1 L850.1 581 L833.3 591.3" stroke="#ffa826" stroke-width="1.3" fill="none" stroke-linejoin="round"/>
<path d="M833.3 591.3 L828.3 593.9 L848.6 602.2 L843.8 613.1 L847.9 627.5" stroke="#b27d22" stroke-width="1.5" fill="none" stroke-linejoin="round"/>
</g>
<text x="857.4" y="515.4" font-size="6.73" fill="#000" text-anchor="middle" font-weight="bold">Total ζ &amp;</text>
<text x="857.4" y="522.9" font-size="6.73" fill="#000" text-anchor="middle" font-weight="bold">Streamwise ζ</text>
<text x="857.4" y="530.4" font-size="6.73" fill="#000" text-anchor="middle" font-weight="bold">(/sec)</text>
<text x="836.6" y="625.2" font-size="5.3" fill="#5a5a5a" text-anchor="middle" font-style="italic">.01</text>
<text x="856.9" y="625.2" font-size="5.3" fill="#5a5a5a" text-anchor="middle" font-style="italic">.03</text>
<text x="877.5" y="625.2" font-size="5.3" fill="#5a5a5a" text-anchor="middle" font-style="italic">.05</text>
<g clip-path="url(#cp2)">
<polygon points="887.4,502 896.4,502 894.2,512.5 884.4,529" fill="#dde7f8"/>
<polygon points="884.4,553 895.3,571.6 901.9,579.2 910.6,586.4 910.6,586.4 916.1,594.5 917.2,602.2 915,613.1 910.6,623 909.5,627.5 887.4,627.5" fill="#dde7f8"/>
<path d="M896.4 502 L894.2 512.5 L884.4 529" stroke="#ff0000" stroke-width="2" fill="none" stroke-linejoin="round"/>
<path d="M884.4 553 L895.3 571.6 L901.9 579.2 L910.6 586.4" stroke="#ff0000" stroke-width="2" fill="none" stroke-linejoin="round"/>
<path d="M910.6 586.4 L916.1 594.5 L917.2 602.2 L915 613.1 L910.6 623 L909.5 627.5" stroke="#800080" stroke-width="2" fill="none" stroke-linejoin="round"/>
</g>
<text x="917.4" y="517.8" font-size="6.73" fill="#000" text-anchor="middle" font-weight="bold">Storm Relative</text>
<text x="917.4" y="524.8" font-size="6.73" fill="#000" text-anchor="middle" font-weight="bold">Wind (kts)</text>
<text x="901.9" y="625.2" font-size="5.3" fill="#5a5a5a" text-anchor="middle" font-style="italic">20</text>
<text x="917.2" y="625.2" font-size="5.3" fill="#5a5a5a" text-anchor="middle" font-style="italic">30</text>
<text x="933.2" y="625.2" font-size="5.3" fill="#5a5a5a" text-anchor="middle" font-style="italic">40</text>
<g clip-path="url(#cp3)">
<polygon points="977.4,521.3 977.8,531.1 987.2,539.8 988.7,545.3 987.2,558.4 989.4,570.5 990.5,577 986.1,582.5 993.8,586.9 1007.5,602.4 1007.5,627.5 977.4,627.5" fill="#fc9a3f"/>
<polygon points="977.4,521.3 976.3,538.8 974.1,560.6 970.8,575.9 959.2,581.9 966.4,586.9 973,597.8 975.6,608.8 975.2,627.5 977.4,627.5" fill="#6fb3b0"/>
<line x1="977.4" y1="502.5" x2="977.4" y2="627.5" stroke="#6a8fe0" stroke-width="0.6" stroke-dasharray="1 1.2"/>
</g>
<text x="977.8" y="515.4" font-size="6.73" fill="#000" text-anchor="middle" font-weight="bold">Stepwise</text>
<text x="977.8" y="522.9" font-size="6.73" fill="#000" text-anchor="middle" font-weight="bold">CIN &amp; CAPE</text>
<text x="977.8" y="530.4" font-size="6.73" fill="#000" text-anchor="middle" font-weight="bold">(J/kg)</text>
<text transform="translate(961.5 616.3) rotate(-45)" font-size="5.9" fill="#5a5a5a" text-anchor="end">-200</text>
<text transform="translate(971.5 616.3) rotate(-45)" font-size="5.9" fill="#5a5a5a" text-anchor="end">-100</text>
<text transform="translate(980.8 616.3) rotate(-45)" font-size="5.9" fill="#5a5a5a" text-anchor="end">0</text>
<text transform="translate(990.8 616.3) rotate(-45)" font-size="5.9" fill="#80530f" text-anchor="end">1k</text>
<text transform="translate(1000.8 616.3) rotate(-45)" font-size="5.9" fill="#80530f" text-anchor="end">2k</text>
<text x="947" y="550.3" font-size="5.83" fill="#000" text-anchor="end" font-weight="bold">-LFC</text>
<text x="948.8" y="605.4" font-size="5.83" fill="#000" text-anchor="end" font-weight="bold">-LCL-</text>
<line x1="767.6" y1="523.3" x2="1007.5" y2="523.3" stroke="#bdbdbd" stroke-opacity="0.35" stroke-width="0.6"/>
<line x1="767.6" y1="544.1" x2="1007.5" y2="544.1" stroke="#bdbdbd" stroke-opacity="0.35" stroke-width="0.6"/>
<line x1="767.6" y1="564.9" x2="1007.5" y2="564.9" stroke="#bdbdbd" stroke-opacity="0.35" stroke-width="0.6"/>
<line x1="767.6" y1="585.7" x2="1007.5" y2="585.7" stroke="#bdbdbd" stroke-opacity="0.35" stroke-width="0.6"/>
<line x1="767.6" y1="606.5" x2="1007.5" y2="606.5" stroke="#bdbdbd" stroke-opacity="0.35" stroke-width="0.6"/>
<path d="M776.4 627.3 v-1.8 M796.1 627.3 v-1.8 M815.8 627.3 v-1.8 M836.6 627.3 v-1.8 M856.9 627.3 v-1.8 M877.5 627.3 v-1.8 M901.9 627.3 v-1.8 M917.2 627.3 v-1.8 M933.2 627.3 v-1.8 M957.3 627.3 v-1.8 M967.3 627.3 v-1.8 M977.5 627.3 v-1.8 M987.4 627.3 v-1.8 M997.4 627.3 v-1.8" stroke="#333" stroke-width="0.6"/>
<rect x="767.6" y="502.5" width="59.4" height="124.8" fill="none" stroke="#2e2e2e" stroke-width="0.75"/>
<rect x="827" y="502.5" width="60.4" height="124.8" fill="none" stroke="#2e2e2e" stroke-width="0.75"/>
<rect x="887.4" y="502.5" width="60.4" height="124.8" fill="none" stroke="#2e2e2e" stroke-width="0.75"/>
<rect x="947.8" y="502.5" width="59.7" height="124.8" fill="none" stroke="#2e2e2e" stroke-width="0.75"/>
</svg>
</body></html>
